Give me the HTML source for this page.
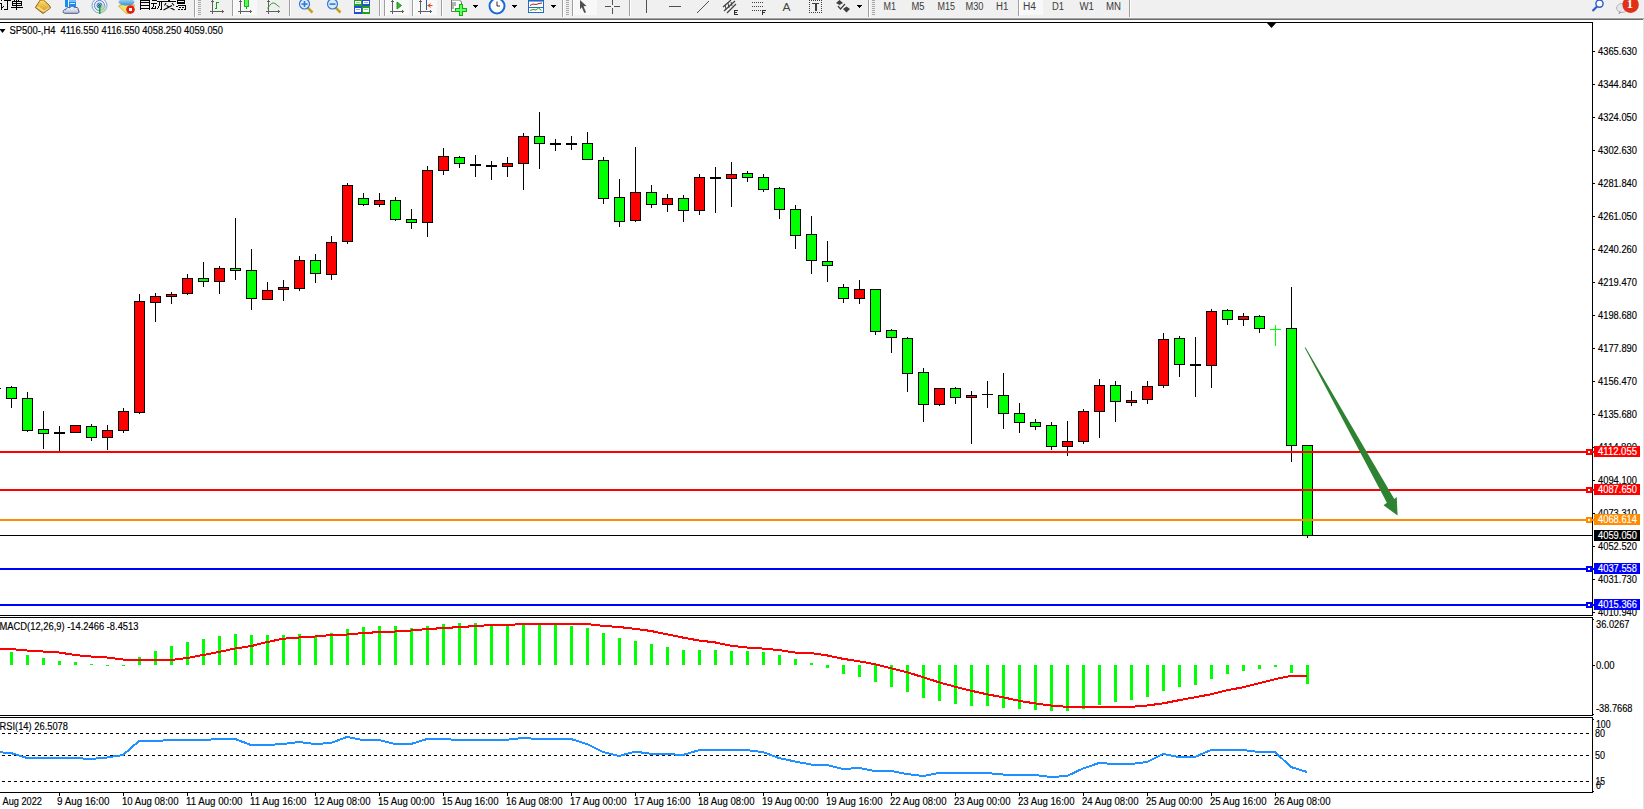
<!DOCTYPE html><html><head><meta charset="utf-8"><title>MT4 SP500 H4</title><style>html,body{margin:0;padding:0;background:#fff;overflow:hidden;width:1644px;height:809px}svg{display:block;font-family:"Liberation Sans",sans-serif}</style></head><body>
<svg width="1644" height="809" viewBox="0 0 1644 809">
<rect x="0" y="0" width="1644" height="809" fill="#ffffff"/>
<rect x="0" y="0" width="1644" height="17" fill="#f0f0f0"/>
<rect x="0" y="17" width="1644" height="1" fill="#f4f4f4"/>
<rect x="0" y="18" width="1644" height="1" fill="#a3a3a3"/>
<rect x="0" y="19" width="1644" height="1" fill="#6a6a6a"/>
<rect x="1643" y="19" width="1" height="790" fill="#e3e3e3"/>
<g shape-rendering="crispEdges" fill="#000">
<rect x="0" y="3" width="2" height="1" fill="#000"/>
<rect x="1" y="3" width="1" height="7" fill="#000"/>
<rect x="1" y="0" width="1" height="1" fill="#000"/>
<rect x="2" y="7" width="1" height="1" fill="#000"/>
<rect x="3" y="6" width="1" height="1" fill="#000"/>
<rect x="4" y="0" width="7" height="1" fill="#000"/>
<rect x="7" y="1" width="1" height="9" fill="#000"/>
<rect x="4" y="9" width="3" height="1" fill="#000"/>
<rect x="14" y="0" width="1" height="1" fill="#000"/>
<rect x="18" y="0" width="1" height="1" fill="#000"/>
<rect x="12" y="1" width="10" height="1" fill="#000"/>
<rect x="12" y="3" width="10" height="1" fill="#000"/>
<rect x="12" y="5" width="10" height="1" fill="#000"/>
<rect x="12" y="1" width="1" height="5" fill="#000"/>
<rect x="21" y="1" width="1" height="5" fill="#000"/>
<rect x="16" y="0" width="1" height="10" fill="#000"/>
<rect x="11" y="7" width="12" height="1" fill="#000"/>
<rect x="140" y="0" width="1" height="10" fill="#000"/>
<rect x="149" y="0" width="1" height="10" fill="#000"/>
<rect x="140" y="0" width="10" height="1" fill="#000"/>
<rect x="140" y="2" width="10" height="1" fill="#000"/>
<rect x="140" y="5" width="10" height="1" fill="#000"/>
<rect x="140" y="8" width="10" height="1" fill="#000"/>
<rect x="143" y="0" width="2" height="1" fill="#000"/>
<rect x="152" y="0" width="5" height="1" fill="#000"/>
<rect x="151" y="3" width="6" height="1" fill="#000"/>
<rect x="153" y="4" width="1" height="3" fill="#000"/>
<rect x="152" y="7" width="1" height="1" fill="#000"/>
<rect x="151" y="8" width="5" height="1" fill="#000"/>
<rect x="155" y="6" width="1" height="2" fill="#000"/>
<rect x="157" y="1" width="6" height="1" fill="#000"/>
<rect x="161" y="1" width="1" height="8" fill="#000"/>
<rect x="159" y="2" width="1" height="4" fill="#000"/>
<rect x="158" y="6" width="1" height="2" fill="#000"/>
<rect x="157" y="8" width="1" height="1" fill="#000"/>
<rect x="160" y="9" width="2" height="1" fill="#000"/>
<rect x="168" y="0" width="2" height="1" fill="#000"/>
<rect x="163" y="1" width="13" height="1" fill="#000"/>
</g>
<path d="M166,3 L164.5,5.5 M172,3 L174,5.5 M166.5,5.5 L174.5,10 M172,5.5 L163.5,10" stroke="#000" stroke-width="1.1" fill="none"/>
<g shape-rendering="crispEdges" fill="#000">
<rect x="177" y="0" width="1" height="4" fill="#000"/>
<rect x="184" y="0" width="1" height="4" fill="#000"/>
<rect x="177" y="0" width="8" height="1" fill="#000"/>
<rect x="177" y="2" width="8" height="1" fill="#000"/>
<rect x="177" y="3" width="8" height="1" fill="#000"/>
<rect x="178" y="5" width="8" height="1" fill="#000"/>
<rect x="185" y="5" width="1" height="5" fill="#000"/>
<rect x="176" y="6" width="2" height="1" fill="#000"/>
<rect x="179" y="7" width="2" height="1" fill="#000"/>
<rect x="182" y="7" width="2" height="1" fill="#000"/>
<rect x="178" y="9" width="2" height="1" fill="#000"/>
<rect x="181" y="9" width="2" height="1" fill="#000"/>
<rect x="184" y="9" width="2" height="1" fill="#000"/>
</g>
<defs><linearGradient id="gb" x1="0" y1="0" x2="0" y2="1"><stop offset="0" stop-color="#ffe070"/><stop offset="1" stop-color="#d09010"/></linearGradient><linearGradient id="gh" x1="0" y1="0" x2="0" y2="1"><stop offset="0" stop-color="#a8e0ff"/><stop offset="1" stop-color="#3a90d0"/></linearGradient><radialGradient id="gc" cx="0.35" cy="0.3" r="0.8"><stop offset="0" stop-color="#ffffff"/><stop offset="1" stop-color="#c8d8f0"/></radialGradient></defs>
<polygon points="40.3,0 35.3,7.5 43,13.5 50.5,8 49.5,5.5 43.5,0" fill="url(#gb)" stroke="#9a6010" stroke-width="1"/>
<polygon points="36.8,7.6 43.5,12.2 44.8,10.8 38,6.3" fill="#f4dc98"/>
<polygon points="44.5,12 49.6,8.2 48.8,7 43.8,10.8" fill="#e0d090"/>
<rect x="65" y="0" width="11" height="7" fill="#1a8cf0"/><rect x="69" y="0" width="7" height="2" fill="#70c0ff"/><rect x="68" y="0" width="1" height="7" fill="#e8f4ff"/><rect x="70" y="3" width="5" height="1" fill="#e0f0ff"/>
<linearGradient id="gcl" x1="0" y1="0" x2="0" y2="1"><stop offset="0" stop-color="#ffffff"/><stop offset="1" stop-color="#b4c0d4"/></linearGradient>
<path d="M64.5,13.3 C62.5,13.3 62.5,9.3 65.8,9.5 C65.8,7.5 69,7 70,7.8 C70.5,5.8 73.8,5.8 74.5,7.8 C76,6.8 78.8,7.5 78.3,10 C79.5,11 79.3,13.3 77.5,13.3 Z" fill="url(#gcl)" stroke="#4a5a88" stroke-width="1"/>
<g fill="none" stroke-width="1"><circle cx="99.5" cy="5.5" r="7.5" stroke="#7aa0e0"/><circle cx="99.5" cy="5.5" r="5" stroke="#5080d8"/><circle cx="99.5" cy="5.5" r="2.5" stroke="#3060c0"/></g>
<path d="M99.5,5.5 L99.5,13 A7.5,7.5 0 0 0 107,5.5 Z" fill="#a8d8a0" opacity="0.7"/>
<circle cx="99.5" cy="5.5" r="1.5" fill="#1848c0"/><rect x="99" y="5" width="1.5" height="9" fill="#20a020"/>
<polygon points="118.5,6 126,3 134.5,5 131,13 126,13.5" fill="#f0e070" stroke="#d0a020" stroke-width="0.8"/>
<ellipse cx="126.5" cy="2" rx="8" ry="3.5" fill="url(#gh)"/>
<circle cx="130.5" cy="9.5" r="4.3" fill="#e02010"/><rect x="129" y="8" width="3" height="3" fill="#fff"/>
<g shape-rendering="crispEdges">
<rect x="194" y="0" width="1" height="17" fill="#a0a0a0"/>
<rect x="195" y="0" width="1" height="17" fill="#ffffff"/>
<rect x="232" y="0" width="1" height="16" fill="#a0a0a0"/>
<rect x="233" y="0" width="1" height="16" fill="#ffffff"/>
<rect x="289" y="0" width="1" height="16" fill="#a0a0a0"/>
<rect x="290" y="0" width="1" height="16" fill="#ffffff"/>
<rect x="379" y="0" width="1" height="16" fill="#a0a0a0"/>
<rect x="380" y="0" width="1" height="16" fill="#ffffff"/>
<rect x="384" y="0" width="1" height="16" fill="#a0a0a0"/>
<rect x="385" y="0" width="1" height="16" fill="#ffffff"/>
<rect x="412" y="0" width="1" height="16" fill="#a0a0a0"/>
<rect x="413" y="0" width="1" height="16" fill="#ffffff"/>
<rect x="441" y="0" width="1" height="16" fill="#a0a0a0"/>
<rect x="442" y="0" width="1" height="16" fill="#ffffff"/>
<rect x="562" y="0" width="1" height="17" fill="#a0a0a0"/>
<rect x="563" y="0" width="1" height="17" fill="#ffffff"/>
<rect x="572" y="0" width="1" height="16" fill="#a0a0a0"/>
<rect x="573" y="0" width="1" height="16" fill="#ffffff"/>
<rect x="629" y="0" width="1" height="16" fill="#a0a0a0"/>
<rect x="630" y="0" width="1" height="16" fill="#ffffff"/>
<rect x="868" y="0" width="1" height="17" fill="#a0a0a0"/>
<rect x="869" y="0" width="1" height="17" fill="#ffffff"/>
<rect x="1018" y="0" width="1" height="16" fill="#a0a0a0"/>
<rect x="1019" y="0" width="1" height="16" fill="#ffffff"/>
<rect x="1129" y="0" width="1" height="17" fill="#a0a0a0"/>
<rect x="1130" y="0" width="1" height="17" fill="#ffffff"/>
<rect x="198" y="0" width="3" height="1" fill="#a8a8a8"/>
<rect x="198" y="2" width="3" height="1" fill="#a8a8a8"/>
<rect x="198" y="4" width="3" height="1" fill="#a8a8a8"/>
<rect x="198" y="6" width="3" height="1" fill="#a8a8a8"/>
<rect x="198" y="8" width="3" height="1" fill="#a8a8a8"/>
<rect x="198" y="10" width="3" height="1" fill="#a8a8a8"/>
<rect x="198" y="12" width="3" height="1" fill="#a8a8a8"/>
<rect x="198" y="14" width="3" height="1" fill="#a8a8a8"/>
<rect x="566" y="0" width="3" height="1" fill="#a8a8a8"/>
<rect x="566" y="2" width="3" height="1" fill="#a8a8a8"/>
<rect x="566" y="4" width="3" height="1" fill="#a8a8a8"/>
<rect x="566" y="6" width="3" height="1" fill="#a8a8a8"/>
<rect x="566" y="8" width="3" height="1" fill="#a8a8a8"/>
<rect x="566" y="10" width="3" height="1" fill="#a8a8a8"/>
<rect x="566" y="12" width="3" height="1" fill="#a8a8a8"/>
<rect x="566" y="14" width="3" height="1" fill="#a8a8a8"/>
<rect x="872" y="0" width="3" height="1" fill="#a8a8a8"/>
<rect x="872" y="2" width="3" height="1" fill="#a8a8a8"/>
<rect x="872" y="4" width="3" height="1" fill="#a8a8a8"/>
<rect x="872" y="6" width="3" height="1" fill="#a8a8a8"/>
<rect x="872" y="8" width="3" height="1" fill="#a8a8a8"/>
<rect x="872" y="10" width="3" height="1" fill="#a8a8a8"/>
<rect x="872" y="12" width="3" height="1" fill="#a8a8a8"/>
<rect x="872" y="14" width="3" height="1" fill="#a8a8a8"/>
<rect x="234" y="0" width="23" height="15" fill="#f8f8f8"/>
<rect x="386" y="0" width="23" height="15" fill="#f8f8f8"/>
<rect x="414" y="0" width="23" height="15" fill="#f8f8f8"/>
<rect x="574" y="0" width="23" height="15" fill="#f8f8f8"/>
<rect x="1020" y="0" width="23" height="15" fill="#f8f8f8"/>
<rect x="212" y="0" width="1" height="14" fill="#606060"/>
<rect x="210" y="11" width="14" height="1" fill="#606060"/>
<rect x="222" y="10" width="1" height="3" fill="#606060"/>
<rect x="211" y="1" width="3" height="1" fill="#606060"/>
<rect x="240" y="0" width="1" height="14" fill="#606060"/>
<rect x="238" y="11" width="14" height="1" fill="#606060"/>
<rect x="250" y="10" width="1" height="3" fill="#606060"/>
<rect x="239" y="1" width="3" height="1" fill="#606060"/>
<rect x="268" y="0" width="1" height="14" fill="#606060"/>
<rect x="266" y="11" width="14" height="1" fill="#606060"/>
<rect x="278" y="10" width="1" height="3" fill="#606060"/>
<rect x="267" y="1" width="3" height="1" fill="#606060"/>
<rect x="392" y="0" width="1" height="14" fill="#606060"/>
<rect x="390" y="11" width="14" height="1" fill="#606060"/>
<rect x="402" y="10" width="1" height="3" fill="#606060"/>
<rect x="391" y="1" width="3" height="1" fill="#606060"/>
<rect x="420" y="0" width="1" height="14" fill="#606060"/>
<rect x="418" y="11" width="14" height="1" fill="#606060"/>
<rect x="430" y="10" width="1" height="3" fill="#606060"/>
<rect x="419" y="1" width="3" height="1" fill="#606060"/>
</g>
<g shape-rendering="crispEdges">
<rect x="216" y="2" width="1" height="7" fill="#10a010"/>
<rect x="217" y="2" width="2" height="1" fill="#10a010"/>
<rect x="215" y="8" width="1" height="1" fill="#10a010"/>
<rect x="216" y="8" width="1" height="1" fill="#10a010"/>
<rect x="244" y="0" width="5" height="7" fill="#10c010"/>
<rect x="245" y="0" width="3" height="6" fill="#60f060"/>
<rect x="246" y="7" width="1" height="2" fill="#10a010"/>
</g>
<path d="M267.5,8.5 Q272,1 275,3.5 T279.5,7" fill="none" stroke="#20a020" stroke-width="1"/>
<line x1="307.5" y1="7.5" x2="312.5" y2="12.5" stroke="#c8a020" stroke-width="2.5"/>
<circle cx="304.5" cy="4" r="5" fill="#d8ecff" stroke="#3a78d0" stroke-width="1.2"/>
<rect x="301.5" y="3.3" width="6" height="1.6" fill="#3a78d0"/>
<rect x="303.7" y="1" width="1.6" height="6" fill="#3a78d0"/>
<line x1="335.5" y1="7.5" x2="340.5" y2="12.5" stroke="#c8a020" stroke-width="2.5"/>
<circle cx="332.5" cy="4" r="5" fill="#d8ecff" stroke="#3a78d0" stroke-width="1.2"/>
<rect x="329.5" y="3.3" width="6" height="1.6" fill="#3a78d0"/>
<g shape-rendering="crispEdges">
<rect x="354" y="0" width="8" height="6" fill="#20a020"/>
<rect x="362" y="0" width="8" height="6" fill="#2050d0"/>
<rect x="354" y="6" width="8" height="8" fill="#2050d0"/>
<rect x="362" y="6" width="8" height="8" fill="#20a020"/>
<rect x="355" y="1" width="6" height="3" fill="#ffffff"/>
<rect x="363" y="1" width="6" height="3" fill="#ffffff"/>
<rect x="355" y="8" width="6" height="4" fill="#ffffff"/>
<rect x="363" y="8" width="6" height="4" fill="#ffffff"/>
<rect x="356" y="2" width="4" height="1" fill="#90d090"/>
<rect x="364" y="2" width="4" height="1" fill="#90a8e0"/>
<rect x="356" y="9" width="4" height="1" fill="#90a8e0"/>
<rect x="364" y="9" width="4" height="1" fill="#90d090"/>
</g>
<polygon points="397,2 401.5,5.5 397,9" fill="#30c030" stroke="#108010" stroke-width="0.8"/>
<g shape-rendering="crispEdges">
<rect x="426" y="0" width="1" height="10" fill="#2060a0"/>
</g>
<polygon points="427,5.5 431,3 430,5 432.5,5 432.5,6 430,6 431,8" fill="#e05010"/>
<path d="M451.5,0 L459.5,0 L461.5,2 L461.5,11.5 L451.5,11.5 Z" fill="#ffffff" stroke="#707070" stroke-width="1"/>
<path d="M453,2 L453,9 M454,3 L456,3 M454,5 L456,5" stroke="#404040" stroke-width="0.8"/>
<g shape-rendering="crispEdges">
<rect x="459" y="4" width="4" height="12" fill="#10b010"/>
<rect x="455" y="8" width="12" height="4" fill="#10b010"/>
<rect x="460" y="5" width="2" height="10" fill="#60ff60"/>
<rect x="456" y="9" width="10" height="2" fill="#60ff60"/>
<rect x="473" y="5" width="5" height="1" fill="#000"/>
<rect x="474" y="6" width="3" height="1" fill="#000"/>
<rect x="475" y="7" width="1" height="1" fill="#000"/>
<rect x="512" y="5" width="5" height="1" fill="#000"/>
<rect x="513" y="6" width="3" height="1" fill="#000"/>
<rect x="514" y="7" width="1" height="1" fill="#000"/>
<rect x="551" y="5" width="5" height="1" fill="#000"/>
<rect x="552" y="6" width="3" height="1" fill="#000"/>
<rect x="553" y="7" width="1" height="1" fill="#000"/>
<rect x="857" y="5" width="5" height="1" fill="#000"/>
<rect x="858" y="6" width="3" height="1" fill="#000"/>
<rect x="859" y="7" width="1" height="1" fill="#000"/>
</g>
<circle cx="497" cy="6" r="7.5" fill="#ffffff" stroke="#1a6ad8" stroke-width="2"/>
<path d="M497,1.5 L497,6 L500,6" fill="none" stroke="#303030" stroke-width="1"/>
<g shape-rendering="crispEdges">
<rect x="528" y="0" width="16" height="13" fill="#2868c8"/>
<rect x="529" y="1" width="14" height="11" fill="#ffffff"/>
<rect x="529" y="1" width="14" height="1" fill="#7aa8e8"/>
<rect x="529" y="7" width="14" height="1" fill="#2868c8"/>
</g>
<polyline points="530,5.5 533,4 536,4.5 539,3.5 542,3" fill="none" stroke="#b02010" stroke-width="1"/>
<polyline points="530,10.5 533,9.5 536,10 538.5,8 541.5,10.5" fill="none" stroke="#20a020" stroke-width="1"/>
<polygon points="580,0 586.5,6 583.5,6.3 586,12.3 584.3,13 581.8,7.3 580,9.3" fill="#505050"/>
<g shape-rendering="crispEdges">
<rect x="605" y="6" width="6" height="1" fill="#505050"/>
<rect x="614" y="6" width="6" height="1" fill="#505050"/>
<rect x="612" y="0" width="1" height="5" fill="#505050"/>
<rect x="612" y="8" width="1" height="6" fill="#505050"/>
<rect x="646" y="0" width="1" height="13" fill="#505050"/>
<rect x="669" y="6" width="12" height="1" fill="#505050"/>
</g>
<line x1="697" y1="13" x2="709" y2="1" stroke="#505050" stroke-width="1"/>
<path d="M723,7 L731,0 M724,11 L735,1 M727,13 L736,4" stroke="#404040" stroke-width="1.2" fill="none"/>
<path d="M725,5 L726,9 M728,3 L729,8 M731,2 L732,6" stroke="#404040" stroke-width="1" fill="none"/>
<g shape-rendering="crispEdges">
<rect x="734" y="10" width="1" height="5" fill="#303030"/>
<rect x="734" y="10" width="4" height="1" fill="#303030"/>
<rect x="734" y="12" width="3" height="1" fill="#303030"/>
<rect x="734" y="14" width="4" height="1" fill="#303030"/>
<rect x="752" y="2" width="1" height="1" fill="#404040"/>
<rect x="754" y="2" width="1" height="1" fill="#404040"/>
<rect x="756" y="2" width="1" height="1" fill="#404040"/>
<rect x="758" y="2" width="1" height="1" fill="#404040"/>
<rect x="760" y="2" width="1" height="1" fill="#404040"/>
<rect x="762" y="2" width="1" height="1" fill="#404040"/>
<rect x="752" y="6" width="1" height="1" fill="#404040"/>
<rect x="754" y="6" width="1" height="1" fill="#404040"/>
<rect x="756" y="6" width="1" height="1" fill="#404040"/>
<rect x="758" y="6" width="1" height="1" fill="#404040"/>
<rect x="760" y="6" width="1" height="1" fill="#404040"/>
<rect x="762" y="6" width="1" height="1" fill="#404040"/>
<rect x="752" y="10" width="1" height="1" fill="#404040"/>
<rect x="754" y="10" width="1" height="1" fill="#404040"/>
<rect x="756" y="10" width="1" height="1" fill="#404040"/>
<rect x="758" y="10" width="1" height="1" fill="#404040"/>
<rect x="760" y="10" width="1" height="1" fill="#404040"/>
<rect x="762" y="10" width="1" height="1" fill="#404040"/>
<rect x="762" y="10" width="1" height="5" fill="#303030"/>
<rect x="762" y="10" width="4" height="1" fill="#303030"/>
<rect x="762" y="12" width="3" height="1" fill="#303030"/>
<rect x="809" y="0" width="1" height="1" fill="#404040"/>
<rect x="809" y="12" width="1" height="1" fill="#404040"/>
<rect x="811" y="0" width="1" height="1" fill="#404040"/>
<rect x="811" y="12" width="1" height="1" fill="#404040"/>
<rect x="813" y="0" width="1" height="1" fill="#404040"/>
<rect x="813" y="12" width="1" height="1" fill="#404040"/>
<rect x="815" y="0" width="1" height="1" fill="#404040"/>
<rect x="815" y="12" width="1" height="1" fill="#404040"/>
<rect x="817" y="0" width="1" height="1" fill="#404040"/>
<rect x="817" y="12" width="1" height="1" fill="#404040"/>
<rect x="819" y="0" width="1" height="1" fill="#404040"/>
<rect x="819" y="12" width="1" height="1" fill="#404040"/>
<rect x="821" y="0" width="1" height="1" fill="#404040"/>
<rect x="821" y="12" width="1" height="1" fill="#404040"/>
<rect x="809" y="0" width="1" height="1" fill="#404040"/>
<rect x="821" y="0" width="1" height="1" fill="#404040"/>
<rect x="809" y="2" width="1" height="1" fill="#404040"/>
<rect x="821" y="2" width="1" height="1" fill="#404040"/>
<rect x="809" y="4" width="1" height="1" fill="#404040"/>
<rect x="821" y="4" width="1" height="1" fill="#404040"/>
<rect x="809" y="6" width="1" height="1" fill="#404040"/>
<rect x="821" y="6" width="1" height="1" fill="#404040"/>
<rect x="809" y="8" width="1" height="1" fill="#404040"/>
<rect x="821" y="8" width="1" height="1" fill="#404040"/>
<rect x="809" y="10" width="1" height="1" fill="#404040"/>
<rect x="821" y="10" width="1" height="1" fill="#404040"/>
<rect x="809" y="12" width="1" height="1" fill="#404040"/>
<rect x="821" y="12" width="1" height="1" fill="#404040"/>
<rect x="812" y="3" width="7" height="1" fill="#404040"/>
<rect x="815" y="3" width="2" height="8" fill="#404040"/>
</g>
<text x="782.5" y="11" font-size="11" fill="#454545" textLength="8" lengthAdjust="spacingAndGlyphs">A</text>
<polygon points="836,3 839.5,0 843,3 839.5,5" fill="#404040"/><polygon points="843,9 846.5,6.5 850,9 846.5,12.5" fill="#404040"/>
<polyline points="838,6 840.5,9 845,4" fill="none" stroke="#404040" stroke-width="1.2"/>
<text x="883.5" y="10" font-size="10" fill="#3c3c3c" textLength="12.5" lengthAdjust="spacingAndGlyphs">M1</text>
<text x="911.5" y="10" font-size="10" fill="#3c3c3c" textLength="13" lengthAdjust="spacingAndGlyphs">M5</text>
<text x="937.5" y="10" font-size="10" fill="#3c3c3c" textLength="17.5" lengthAdjust="spacingAndGlyphs">M15</text>
<text x="965.5" y="10" font-size="10" fill="#3c3c3c" textLength="18" lengthAdjust="spacingAndGlyphs">M30</text>
<text x="996" y="10" font-size="10" fill="#3c3c3c" textLength="12.3" lengthAdjust="spacingAndGlyphs">H1</text>
<text x="1023" y="10" font-size="10" fill="#3c3c3c" textLength="13" lengthAdjust="spacingAndGlyphs">H4</text>
<text x="1052" y="10" font-size="10" fill="#3c3c3c" textLength="12" lengthAdjust="spacingAndGlyphs">D1</text>
<text x="1079.5" y="10" font-size="10" fill="#3c3c3c" textLength="14.5" lengthAdjust="spacingAndGlyphs">W1</text>
<text x="1106" y="10" font-size="10" fill="#3c3c3c" textLength="15" lengthAdjust="spacingAndGlyphs">MN</text>
<line x1="1597" y1="6.5" x2="1592.5" y2="11" stroke="#2a5ad0" stroke-width="2.2"/>
<circle cx="1599.5" cy="3.6" r="3.6" fill="#ffffff" stroke="#2a5ad0" stroke-width="1.4"/>
<ellipse cx="1622" cy="8" rx="5.5" ry="4.5" fill="#e4e6ec" stroke="#b8b8b8" stroke-width="1"/>
<polygon points="1619,11.5 1618.5,14.5 1622,12" fill="#a0a0a0"/>
<circle cx="1630.6" cy="4.7" r="8.2" fill="#e03018"/>
<text x="1626.8" y="8.2" font-size="12.5" font-family="Liberation Serif" fill="#fff" font-weight="bold">1</text>
<g shape-rendering="crispEdges">
<rect x="0" y="22" width="1593" height="1" fill="#000"/>
<rect x="1592" y="22" width="1" height="594" fill="#000"/>
<rect x="0" y="615" width="1593" height="1" fill="#000"/>
<rect x="0" y="617" width="1593" height="1" fill="#000"/>
<rect x="1592" y="617" width="1" height="99" fill="#000"/>
<rect x="0" y="715" width="1593" height="1" fill="#000"/>
<rect x="0" y="717" width="1593" height="1" fill="#000"/>
<rect x="1592" y="717" width="1" height="76" fill="#000"/>
<rect x="0" y="792" width="1593" height="1" fill="#000"/>
<rect x="1593" y="51" width="2" height="1" fill="#000"/>
<rect x="1593" y="84" width="2" height="1" fill="#000"/>
<rect x="1593" y="117" width="2" height="1" fill="#000"/>
<rect x="1593" y="150" width="2" height="1" fill="#000"/>
<rect x="1593" y="183" width="2" height="1" fill="#000"/>
<rect x="1593" y="216" width="2" height="1" fill="#000"/>
<rect x="1593" y="249" width="2" height="1" fill="#000"/>
<rect x="1593" y="282" width="2" height="1" fill="#000"/>
<rect x="1593" y="315" width="2" height="1" fill="#000"/>
<rect x="1593" y="348" width="2" height="1" fill="#000"/>
<rect x="1593" y="381" width="2" height="1" fill="#000"/>
<rect x="1593" y="414" width="2" height="1" fill="#000"/>
<rect x="1593" y="447" width="2" height="1" fill="#000"/>
<rect x="1593" y="480" width="2" height="1" fill="#000"/>
<rect x="1593" y="513" width="2" height="1" fill="#000"/>
<rect x="1593" y="546" width="2" height="1" fill="#000"/>
<rect x="1593" y="579" width="2" height="1" fill="#000"/>
<rect x="1593" y="612" width="2" height="1" fill="#000"/>
<rect x="1593" y="665" width="2" height="1" fill="#000"/>
<rect x="1593" y="714" width="1" height="1" fill="#000"/>
<rect x="1593" y="719" width="1" height="1" fill="#000"/>
<rect x="1593" y="791" width="1" height="1" fill="#000"/>
<rect x="1593" y="619" width="1" height="1" fill="#000"/>
<rect x="59" y="793" width="1" height="3" fill="#000"/>
<rect x="123" y="793" width="1" height="3" fill="#000"/>
<rect x="187" y="793" width="1" height="3" fill="#000"/>
<rect x="251" y="793" width="1" height="3" fill="#000"/>
<rect x="315" y="793" width="1" height="3" fill="#000"/>
<rect x="379" y="793" width="1" height="3" fill="#000"/>
<rect x="443" y="793" width="1" height="3" fill="#000"/>
<rect x="507" y="793" width="1" height="3" fill="#000"/>
<rect x="571" y="793" width="1" height="3" fill="#000"/>
<rect x="635" y="793" width="1" height="3" fill="#000"/>
<rect x="699" y="793" width="1" height="3" fill="#000"/>
<rect x="763" y="793" width="1" height="3" fill="#000"/>
<rect x="827" y="793" width="1" height="3" fill="#000"/>
<rect x="891" y="793" width="1" height="3" fill="#000"/>
<rect x="955" y="793" width="1" height="3" fill="#000"/>
<rect x="1019" y="793" width="1" height="3" fill="#000"/>
<rect x="1083" y="793" width="1" height="3" fill="#000"/>
<rect x="1147" y="793" width="1" height="3" fill="#000"/>
<rect x="1211" y="793" width="1" height="3" fill="#000"/>
<rect x="1275" y="793" width="1" height="3" fill="#000"/>
</g>
<g font-size="10" fill="#000">
<text x="1598" y="55" font-size="10" fill="#000" textLength="39" lengthAdjust="spacingAndGlyphs" stroke="#000" stroke-width="0.15">4365.630</text>
<text x="1598" y="88" font-size="10" fill="#000" textLength="39" lengthAdjust="spacingAndGlyphs" stroke="#000" stroke-width="0.15">4344.840</text>
<text x="1598" y="121" font-size="10" fill="#000" textLength="39" lengthAdjust="spacingAndGlyphs" stroke="#000" stroke-width="0.15">4324.050</text>
<text x="1598" y="154" font-size="10" fill="#000" textLength="39" lengthAdjust="spacingAndGlyphs" stroke="#000" stroke-width="0.15">4302.630</text>
<text x="1598" y="187" font-size="10" fill="#000" textLength="39" lengthAdjust="spacingAndGlyphs" stroke="#000" stroke-width="0.15">4281.840</text>
<text x="1598" y="220" font-size="10" fill="#000" textLength="39" lengthAdjust="spacingAndGlyphs" stroke="#000" stroke-width="0.15">4261.050</text>
<text x="1598" y="253" font-size="10" fill="#000" textLength="39" lengthAdjust="spacingAndGlyphs" stroke="#000" stroke-width="0.15">4240.260</text>
<text x="1598" y="286" font-size="10" fill="#000" textLength="39" lengthAdjust="spacingAndGlyphs" stroke="#000" stroke-width="0.15">4219.470</text>
<text x="1598" y="319" font-size="10" fill="#000" textLength="39" lengthAdjust="spacingAndGlyphs" stroke="#000" stroke-width="0.15">4198.680</text>
<text x="1598" y="352" font-size="10" fill="#000" textLength="39" lengthAdjust="spacingAndGlyphs" stroke="#000" stroke-width="0.15">4177.890</text>
<text x="1598" y="385" font-size="10" fill="#000" textLength="39" lengthAdjust="spacingAndGlyphs" stroke="#000" stroke-width="0.15">4156.470</text>
<text x="1598" y="418" font-size="10" fill="#000" textLength="39" lengthAdjust="spacingAndGlyphs" stroke="#000" stroke-width="0.15">4135.680</text>
<text x="1598" y="451" font-size="10" fill="#000" textLength="39" lengthAdjust="spacingAndGlyphs" stroke="#000" stroke-width="0.15">4114.890</text>
<text x="1598" y="484" font-size="10" fill="#000" textLength="39" lengthAdjust="spacingAndGlyphs" stroke="#000" stroke-width="0.15">4094.100</text>
<text x="1598" y="517" font-size="10" fill="#000" textLength="39" lengthAdjust="spacingAndGlyphs" stroke="#000" stroke-width="0.15">4073.310</text>
<text x="1598" y="550" font-size="10" fill="#000" textLength="39" lengthAdjust="spacingAndGlyphs" stroke="#000" stroke-width="0.15">4052.520</text>
<text x="1598" y="583" font-size="10" fill="#000" textLength="39" lengthAdjust="spacingAndGlyphs" stroke="#000" stroke-width="0.15">4031.730</text>
<text x="1598" y="616" font-size="10" fill="#000" textLength="39" lengthAdjust="spacingAndGlyphs" stroke="#000" stroke-width="0.15">4010.940</text>
</g>
<text x="57" y="805" font-size="10" fill="#000" textLength="52.5" lengthAdjust="spacingAndGlyphs" stroke="#000" stroke-width="0.15">9 Aug 16:00</text>
<text x="122" y="805" font-size="10" fill="#000" textLength="56.5" lengthAdjust="spacingAndGlyphs" stroke="#000" stroke-width="0.15">10 Aug 08:00</text>
<text x="186" y="805" font-size="10" fill="#000" textLength="56.5" lengthAdjust="spacingAndGlyphs" stroke="#000" stroke-width="0.15">11 Aug 00:00</text>
<text x="250" y="805" font-size="10" fill="#000" textLength="56.5" lengthAdjust="spacingAndGlyphs" stroke="#000" stroke-width="0.15">11 Aug 16:00</text>
<text x="314" y="805" font-size="10" fill="#000" textLength="56.5" lengthAdjust="spacingAndGlyphs" stroke="#000" stroke-width="0.15">12 Aug 08:00</text>
<text x="378" y="805" font-size="10" fill="#000" textLength="56.5" lengthAdjust="spacingAndGlyphs" stroke="#000" stroke-width="0.15">15 Aug 00:00</text>
<text x="442" y="805" font-size="10" fill="#000" textLength="56.5" lengthAdjust="spacingAndGlyphs" stroke="#000" stroke-width="0.15">15 Aug 16:00</text>
<text x="506" y="805" font-size="10" fill="#000" textLength="56.5" lengthAdjust="spacingAndGlyphs" stroke="#000" stroke-width="0.15">16 Aug 08:00</text>
<text x="570" y="805" font-size="10" fill="#000" textLength="56.5" lengthAdjust="spacingAndGlyphs" stroke="#000" stroke-width="0.15">17 Aug 00:00</text>
<text x="634" y="805" font-size="10" fill="#000" textLength="56.5" lengthAdjust="spacingAndGlyphs" stroke="#000" stroke-width="0.15">17 Aug 16:00</text>
<text x="698" y="805" font-size="10" fill="#000" textLength="56.5" lengthAdjust="spacingAndGlyphs" stroke="#000" stroke-width="0.15">18 Aug 08:00</text>
<text x="762" y="805" font-size="10" fill="#000" textLength="56.5" lengthAdjust="spacingAndGlyphs" stroke="#000" stroke-width="0.15">19 Aug 00:00</text>
<text x="826" y="805" font-size="10" fill="#000" textLength="56.5" lengthAdjust="spacingAndGlyphs" stroke="#000" stroke-width="0.15">19 Aug 16:00</text>
<text x="890" y="805" font-size="10" fill="#000" textLength="56.5" lengthAdjust="spacingAndGlyphs" stroke="#000" stroke-width="0.15">22 Aug 08:00</text>
<text x="954" y="805" font-size="10" fill="#000" textLength="56.5" lengthAdjust="spacingAndGlyphs" stroke="#000" stroke-width="0.15">23 Aug 00:00</text>
<text x="1018" y="805" font-size="10" fill="#000" textLength="56.5" lengthAdjust="spacingAndGlyphs" stroke="#000" stroke-width="0.15">23 Aug 16:00</text>
<text x="1082" y="805" font-size="10" fill="#000" textLength="56.5" lengthAdjust="spacingAndGlyphs" stroke="#000" stroke-width="0.15">24 Aug 08:00</text>
<text x="1146" y="805" font-size="10" fill="#000" textLength="56.5" lengthAdjust="spacingAndGlyphs" stroke="#000" stroke-width="0.15">25 Aug 00:00</text>
<text x="1210" y="805" font-size="10" fill="#000" textLength="56.5" lengthAdjust="spacingAndGlyphs" stroke="#000" stroke-width="0.15">25 Aug 16:00</text>
<text x="1274" y="805" font-size="10" fill="#000" textLength="56.5" lengthAdjust="spacingAndGlyphs" stroke="#000" stroke-width="0.15">26 Aug 08:00</text>
<text x="2.5" y="805" font-size="10" fill="#000" textLength="39.5" lengthAdjust="spacingAndGlyphs" stroke="#000" stroke-width="0.15">Aug 2022</text>
<g shape-rendering="crispEdges">
<rect x="11" y="386" width="1" height="1" fill="#000"/>
<rect x="11" y="399" width="1" height="9" fill="#000"/>
<rect x="6" y="387" width="11" height="12" fill="#000"/>
<rect x="7" y="388" width="9" height="10" fill="#00ff00"/>
<rect x="27" y="392" width="1" height="6" fill="#000"/>
<rect x="27" y="431" width="1" height="1" fill="#000"/>
<rect x="22" y="398" width="11" height="33" fill="#000"/>
<rect x="23" y="399" width="9" height="31" fill="#00ff00"/>
<rect x="43" y="411" width="1" height="18" fill="#000"/>
<rect x="43" y="434" width="1" height="15" fill="#000"/>
<rect x="38" y="429" width="11" height="5" fill="#000"/>
<rect x="39" y="430" width="9" height="3" fill="#00ff00"/>
<rect x="59" y="426" width="1" height="25" fill="#000"/>
<rect x="54" y="432" width="11" height="2" fill="#000"/>
<rect x="70" y="425" width="11" height="8" fill="#000"/>
<rect x="71" y="426" width="9" height="6" fill="#ff0000"/>
<rect x="91" y="424" width="1" height="2" fill="#000"/>
<rect x="91" y="438" width="1" height="3" fill="#000"/>
<rect x="86" y="426" width="11" height="12" fill="#000"/>
<rect x="87" y="427" width="9" height="10" fill="#00ff00"/>
<rect x="107" y="425" width="1" height="5" fill="#000"/>
<rect x="107" y="438" width="1" height="12" fill="#000"/>
<rect x="102" y="430" width="11" height="8" fill="#000"/>
<rect x="103" y="431" width="9" height="6" fill="#ff0000"/>
<rect x="123" y="408" width="1" height="3" fill="#000"/>
<rect x="123" y="431" width="1" height="2" fill="#000"/>
<rect x="118" y="411" width="11" height="20" fill="#000"/>
<rect x="119" y="412" width="9" height="18" fill="#ff0000"/>
<rect x="139" y="294" width="1" height="7" fill="#000"/>
<rect x="139" y="413" width="1" height="1" fill="#000"/>
<rect x="134" y="301" width="11" height="112" fill="#000"/>
<rect x="135" y="302" width="9" height="110" fill="#ff0000"/>
<rect x="155" y="293" width="1" height="3" fill="#000"/>
<rect x="155" y="303" width="1" height="19" fill="#000"/>
<rect x="150" y="296" width="11" height="7" fill="#000"/>
<rect x="151" y="297" width="9" height="5" fill="#ff0000"/>
<rect x="171" y="292" width="1" height="2" fill="#000"/>
<rect x="171" y="297" width="1" height="7" fill="#000"/>
<rect x="166" y="294" width="11" height="3" fill="#000"/>
<rect x="167" y="295" width="9" height="1" fill="#ff0000"/>
<rect x="187" y="274" width="1" height="4" fill="#000"/>
<rect x="187" y="294" width="1" height="1" fill="#000"/>
<rect x="182" y="278" width="11" height="16" fill="#000"/>
<rect x="183" y="279" width="9" height="14" fill="#ff0000"/>
<rect x="203" y="262" width="1" height="16" fill="#000"/>
<rect x="203" y="282" width="1" height="5" fill="#000"/>
<rect x="198" y="278" width="11" height="4" fill="#000"/>
<rect x="199" y="279" width="9" height="2" fill="#00ff00"/>
<rect x="219" y="266" width="1" height="2" fill="#000"/>
<rect x="219" y="282" width="1" height="12" fill="#000"/>
<rect x="214" y="268" width="11" height="14" fill="#000"/>
<rect x="215" y="269" width="9" height="12" fill="#ff0000"/>
<rect x="235" y="218" width="1" height="50" fill="#000"/>
<rect x="235" y="271" width="1" height="9" fill="#000"/>
<rect x="230" y="268" width="11" height="3" fill="#000"/>
<rect x="231" y="269" width="9" height="1" fill="#00ff00"/>
<rect x="251" y="249" width="1" height="21" fill="#000"/>
<rect x="251" y="299" width="1" height="11" fill="#000"/>
<rect x="246" y="270" width="11" height="29" fill="#000"/>
<rect x="247" y="271" width="9" height="27" fill="#00ff00"/>
<rect x="267" y="282" width="1" height="8" fill="#000"/>
<rect x="262" y="290" width="11" height="10" fill="#000"/>
<rect x="263" y="291" width="9" height="8" fill="#ff0000"/>
<rect x="283" y="280" width="1" height="7" fill="#000"/>
<rect x="283" y="290" width="1" height="11" fill="#000"/>
<rect x="278" y="287" width="11" height="3" fill="#000"/>
<rect x="279" y="288" width="9" height="1" fill="#ff0000"/>
<rect x="299" y="256" width="1" height="4" fill="#000"/>
<rect x="299" y="289" width="1" height="2" fill="#000"/>
<rect x="294" y="260" width="11" height="29" fill="#000"/>
<rect x="295" y="261" width="9" height="27" fill="#ff0000"/>
<rect x="315" y="254" width="1" height="6" fill="#000"/>
<rect x="315" y="274" width="1" height="9" fill="#000"/>
<rect x="310" y="260" width="11" height="14" fill="#000"/>
<rect x="311" y="261" width="9" height="12" fill="#00ff00"/>
<rect x="331" y="236" width="1" height="6" fill="#000"/>
<rect x="331" y="275" width="1" height="5" fill="#000"/>
<rect x="326" y="242" width="11" height="33" fill="#000"/>
<rect x="327" y="243" width="9" height="31" fill="#ff0000"/>
<rect x="347" y="183" width="1" height="2" fill="#000"/>
<rect x="347" y="242" width="1" height="2" fill="#000"/>
<rect x="342" y="185" width="11" height="57" fill="#000"/>
<rect x="343" y="186" width="9" height="55" fill="#ff0000"/>
<rect x="363" y="193" width="1" height="5" fill="#000"/>
<rect x="363" y="205" width="1" height="1" fill="#000"/>
<rect x="358" y="198" width="11" height="7" fill="#000"/>
<rect x="359" y="199" width="9" height="5" fill="#00ff00"/>
<rect x="379" y="193" width="1" height="7" fill="#000"/>
<rect x="379" y="205" width="1" height="2" fill="#000"/>
<rect x="374" y="200" width="11" height="5" fill="#000"/>
<rect x="375" y="201" width="9" height="3" fill="#ff0000"/>
<rect x="395" y="197" width="1" height="3" fill="#000"/>
<rect x="395" y="220" width="1" height="1" fill="#000"/>
<rect x="390" y="200" width="11" height="20" fill="#000"/>
<rect x="391" y="201" width="9" height="18" fill="#00ff00"/>
<rect x="411" y="209" width="1" height="10" fill="#000"/>
<rect x="411" y="223" width="1" height="6" fill="#000"/>
<rect x="406" y="219" width="11" height="4" fill="#000"/>
<rect x="407" y="220" width="9" height="2" fill="#00ff00"/>
<rect x="427" y="166" width="1" height="4" fill="#000"/>
<rect x="427" y="223" width="1" height="14" fill="#000"/>
<rect x="422" y="170" width="11" height="53" fill="#000"/>
<rect x="423" y="171" width="9" height="51" fill="#ff0000"/>
<rect x="443" y="148" width="1" height="8" fill="#000"/>
<rect x="443" y="171" width="1" height="4" fill="#000"/>
<rect x="438" y="156" width="11" height="15" fill="#000"/>
<rect x="439" y="157" width="9" height="13" fill="#ff0000"/>
<rect x="459" y="156" width="1" height="1" fill="#000"/>
<rect x="459" y="164" width="1" height="4" fill="#000"/>
<rect x="454" y="157" width="11" height="7" fill="#000"/>
<rect x="455" y="158" width="9" height="5" fill="#00ff00"/>
<rect x="475" y="155" width="1" height="22" fill="#000"/>
<rect x="470" y="164" width="11" height="2" fill="#000"/>
<rect x="491" y="161" width="1" height="19" fill="#000"/>
<rect x="486" y="165" width="11" height="2" fill="#000"/>
<rect x="507" y="157" width="1" height="6" fill="#000"/>
<rect x="507" y="167" width="1" height="10" fill="#000"/>
<rect x="502" y="163" width="11" height="4" fill="#000"/>
<rect x="503" y="164" width="9" height="2" fill="#ff0000"/>
<rect x="523" y="133" width="1" height="3" fill="#000"/>
<rect x="523" y="164" width="1" height="26" fill="#000"/>
<rect x="518" y="136" width="11" height="28" fill="#000"/>
<rect x="519" y="137" width="9" height="26" fill="#ff0000"/>
<rect x="539" y="112" width="1" height="24" fill="#000"/>
<rect x="539" y="144" width="1" height="25" fill="#000"/>
<rect x="534" y="136" width="11" height="8" fill="#000"/>
<rect x="535" y="137" width="9" height="6" fill="#00ff00"/>
<rect x="555" y="139" width="1" height="12" fill="#000"/>
<rect x="550" y="143" width="11" height="2" fill="#000"/>
<rect x="571" y="136" width="1" height="14" fill="#000"/>
<rect x="566" y="143" width="11" height="2" fill="#000"/>
<rect x="587" y="132" width="1" height="11" fill="#000"/>
<rect x="582" y="143" width="11" height="17" fill="#000"/>
<rect x="583" y="144" width="9" height="15" fill="#00ff00"/>
<rect x="603" y="157" width="1" height="3" fill="#000"/>
<rect x="603" y="199" width="1" height="5" fill="#000"/>
<rect x="598" y="160" width="11" height="39" fill="#000"/>
<rect x="599" y="161" width="9" height="37" fill="#00ff00"/>
<rect x="619" y="179" width="1" height="18" fill="#000"/>
<rect x="619" y="222" width="1" height="5" fill="#000"/>
<rect x="614" y="197" width="11" height="25" fill="#000"/>
<rect x="615" y="198" width="9" height="23" fill="#00ff00"/>
<rect x="635" y="147" width="1" height="45" fill="#000"/>
<rect x="635" y="221" width="1" height="1" fill="#000"/>
<rect x="630" y="192" width="11" height="29" fill="#000"/>
<rect x="631" y="193" width="9" height="27" fill="#ff0000"/>
<rect x="651" y="185" width="1" height="7" fill="#000"/>
<rect x="651" y="205" width="1" height="3" fill="#000"/>
<rect x="646" y="192" width="11" height="13" fill="#000"/>
<rect x="647" y="193" width="9" height="11" fill="#00ff00"/>
<rect x="667" y="194" width="1" height="4" fill="#000"/>
<rect x="667" y="205" width="1" height="7" fill="#000"/>
<rect x="662" y="198" width="11" height="7" fill="#000"/>
<rect x="663" y="199" width="9" height="5" fill="#ff0000"/>
<rect x="683" y="195" width="1" height="3" fill="#000"/>
<rect x="683" y="211" width="1" height="11" fill="#000"/>
<rect x="678" y="198" width="11" height="13" fill="#000"/>
<rect x="679" y="199" width="9" height="11" fill="#00ff00"/>
<rect x="699" y="174" width="1" height="3" fill="#000"/>
<rect x="699" y="211" width="1" height="4" fill="#000"/>
<rect x="694" y="177" width="11" height="34" fill="#000"/>
<rect x="695" y="178" width="9" height="32" fill="#ff0000"/>
<rect x="715" y="167" width="1" height="46" fill="#000"/>
<rect x="710" y="177" width="11" height="2" fill="#000"/>
<rect x="731" y="162" width="1" height="12" fill="#000"/>
<rect x="731" y="179" width="1" height="28" fill="#000"/>
<rect x="726" y="174" width="11" height="5" fill="#000"/>
<rect x="727" y="175" width="9" height="3" fill="#ff0000"/>
<rect x="747" y="171" width="1" height="2" fill="#000"/>
<rect x="747" y="178" width="1" height="4" fill="#000"/>
<rect x="742" y="173" width="11" height="5" fill="#000"/>
<rect x="743" y="174" width="9" height="3" fill="#00ff00"/>
<rect x="763" y="174" width="1" height="3" fill="#000"/>
<rect x="763" y="190" width="1" height="2" fill="#000"/>
<rect x="758" y="177" width="11" height="13" fill="#000"/>
<rect x="759" y="178" width="9" height="11" fill="#00ff00"/>
<rect x="779" y="187" width="1" height="1" fill="#000"/>
<rect x="779" y="210" width="1" height="9" fill="#000"/>
<rect x="774" y="188" width="11" height="22" fill="#000"/>
<rect x="775" y="189" width="9" height="20" fill="#00ff00"/>
<rect x="795" y="205" width="1" height="4" fill="#000"/>
<rect x="795" y="236" width="1" height="13" fill="#000"/>
<rect x="790" y="209" width="11" height="27" fill="#000"/>
<rect x="791" y="210" width="9" height="25" fill="#00ff00"/>
<rect x="811" y="216" width="1" height="18" fill="#000"/>
<rect x="811" y="261" width="1" height="13" fill="#000"/>
<rect x="806" y="234" width="11" height="27" fill="#000"/>
<rect x="807" y="235" width="9" height="25" fill="#00ff00"/>
<rect x="827" y="241" width="1" height="20" fill="#000"/>
<rect x="827" y="266" width="1" height="16" fill="#000"/>
<rect x="822" y="261" width="11" height="5" fill="#000"/>
<rect x="823" y="262" width="9" height="3" fill="#00ff00"/>
<rect x="843" y="284" width="1" height="3" fill="#000"/>
<rect x="843" y="299" width="1" height="4" fill="#000"/>
<rect x="838" y="287" width="11" height="12" fill="#000"/>
<rect x="839" y="288" width="9" height="10" fill="#00ff00"/>
<rect x="859" y="280" width="1" height="9" fill="#000"/>
<rect x="859" y="299" width="1" height="5" fill="#000"/>
<rect x="854" y="289" width="11" height="10" fill="#000"/>
<rect x="855" y="290" width="9" height="8" fill="#ff0000"/>
<rect x="875" y="332" width="1" height="3" fill="#000"/>
<rect x="870" y="289" width="11" height="43" fill="#000"/>
<rect x="871" y="290" width="9" height="41" fill="#00ff00"/>
<rect x="891" y="329" width="1" height="1" fill="#000"/>
<rect x="891" y="338" width="1" height="15" fill="#000"/>
<rect x="886" y="330" width="11" height="8" fill="#000"/>
<rect x="887" y="331" width="9" height="6" fill="#00ff00"/>
<rect x="907" y="337" width="1" height="1" fill="#000"/>
<rect x="907" y="374" width="1" height="18" fill="#000"/>
<rect x="902" y="338" width="11" height="36" fill="#000"/>
<rect x="903" y="339" width="9" height="34" fill="#00ff00"/>
<rect x="923" y="368" width="1" height="4" fill="#000"/>
<rect x="923" y="405" width="1" height="17" fill="#000"/>
<rect x="918" y="372" width="11" height="33" fill="#000"/>
<rect x="919" y="373" width="9" height="31" fill="#00ff00"/>
<rect x="939" y="405" width="1" height="1" fill="#000"/>
<rect x="934" y="388" width="11" height="17" fill="#000"/>
<rect x="935" y="389" width="9" height="15" fill="#ff0000"/>
<rect x="955" y="387" width="1" height="1" fill="#000"/>
<rect x="955" y="398" width="1" height="6" fill="#000"/>
<rect x="950" y="388" width="11" height="10" fill="#000"/>
<rect x="951" y="389" width="9" height="8" fill="#00ff00"/>
<rect x="971" y="391" width="1" height="4" fill="#000"/>
<rect x="971" y="398" width="1" height="46" fill="#000"/>
<rect x="966" y="395" width="11" height="3" fill="#000"/>
<rect x="967" y="396" width="9" height="1" fill="#ff0000"/>
<rect x="987" y="381" width="1" height="27" fill="#000"/>
<rect x="982" y="394" width="11" height="1" fill="#000"/>
<rect x="1003" y="373" width="1" height="22" fill="#000"/>
<rect x="1003" y="414" width="1" height="15" fill="#000"/>
<rect x="998" y="395" width="11" height="19" fill="#000"/>
<rect x="999" y="396" width="9" height="17" fill="#00ff00"/>
<rect x="1019" y="403" width="1" height="10" fill="#000"/>
<rect x="1019" y="423" width="1" height="10" fill="#000"/>
<rect x="1014" y="413" width="11" height="10" fill="#000"/>
<rect x="1015" y="414" width="9" height="8" fill="#00ff00"/>
<rect x="1035" y="419" width="1" height="3" fill="#000"/>
<rect x="1035" y="427" width="1" height="3" fill="#000"/>
<rect x="1030" y="422" width="11" height="5" fill="#000"/>
<rect x="1031" y="423" width="9" height="3" fill="#00ff00"/>
<rect x="1051" y="422" width="1" height="3" fill="#000"/>
<rect x="1051" y="447" width="1" height="3" fill="#000"/>
<rect x="1046" y="425" width="11" height="22" fill="#000"/>
<rect x="1047" y="426" width="9" height="20" fill="#00ff00"/>
<rect x="1067" y="421" width="1" height="20" fill="#000"/>
<rect x="1067" y="447" width="1" height="9" fill="#000"/>
<rect x="1062" y="441" width="11" height="6" fill="#000"/>
<rect x="1063" y="442" width="9" height="4" fill="#ff0000"/>
<rect x="1083" y="409" width="1" height="2" fill="#000"/>
<rect x="1083" y="442" width="1" height="2" fill="#000"/>
<rect x="1078" y="411" width="11" height="31" fill="#000"/>
<rect x="1079" y="412" width="9" height="29" fill="#ff0000"/>
<rect x="1099" y="379" width="1" height="6" fill="#000"/>
<rect x="1099" y="412" width="1" height="26" fill="#000"/>
<rect x="1094" y="385" width="11" height="27" fill="#000"/>
<rect x="1095" y="386" width="9" height="25" fill="#ff0000"/>
<rect x="1115" y="381" width="1" height="4" fill="#000"/>
<rect x="1115" y="402" width="1" height="20" fill="#000"/>
<rect x="1110" y="385" width="11" height="17" fill="#000"/>
<rect x="1111" y="386" width="9" height="15" fill="#00ff00"/>
<rect x="1131" y="391" width="1" height="9" fill="#000"/>
<rect x="1131" y="403" width="1" height="3" fill="#000"/>
<rect x="1126" y="400" width="11" height="3" fill="#000"/>
<rect x="1127" y="401" width="9" height="1" fill="#ff0000"/>
<rect x="1147" y="381" width="1" height="5" fill="#000"/>
<rect x="1147" y="400" width="1" height="4" fill="#000"/>
<rect x="1142" y="386" width="11" height="14" fill="#000"/>
<rect x="1143" y="387" width="9" height="12" fill="#ff0000"/>
<rect x="1163" y="333" width="1" height="6" fill="#000"/>
<rect x="1163" y="386" width="1" height="2" fill="#000"/>
<rect x="1158" y="339" width="11" height="47" fill="#000"/>
<rect x="1159" y="340" width="9" height="45" fill="#ff0000"/>
<rect x="1179" y="336" width="1" height="2" fill="#000"/>
<rect x="1179" y="365" width="1" height="12" fill="#000"/>
<rect x="1174" y="338" width="11" height="27" fill="#000"/>
<rect x="1175" y="339" width="9" height="25" fill="#00ff00"/>
<rect x="1195" y="337" width="1" height="60" fill="#000"/>
<rect x="1190" y="364" width="11" height="2" fill="#000"/>
<rect x="1211" y="309" width="1" height="2" fill="#000"/>
<rect x="1211" y="366" width="1" height="22" fill="#000"/>
<rect x="1206" y="311" width="11" height="55" fill="#000"/>
<rect x="1207" y="312" width="9" height="53" fill="#ff0000"/>
<rect x="1227" y="309" width="1" height="1" fill="#000"/>
<rect x="1227" y="320" width="1" height="5" fill="#000"/>
<rect x="1222" y="310" width="11" height="10" fill="#000"/>
<rect x="1223" y="311" width="9" height="8" fill="#00ff00"/>
<rect x="1243" y="313" width="1" height="3" fill="#000"/>
<rect x="1243" y="320" width="1" height="6" fill="#000"/>
<rect x="1238" y="316" width="11" height="4" fill="#000"/>
<rect x="1239" y="317" width="9" height="2" fill="#ff0000"/>
<rect x="1259" y="315" width="1" height="1" fill="#000"/>
<rect x="1259" y="329" width="1" height="4" fill="#000"/>
<rect x="1254" y="316" width="11" height="13" fill="#000"/>
<rect x="1255" y="317" width="9" height="11" fill="#00ff00"/>
<rect x="1275" y="325" width="1" height="21" fill="#00ff00"/>
<rect x="1270" y="329" width="11" height="1" fill="#00ff00"/>
<rect x="1291" y="287" width="1" height="41" fill="#000"/>
<rect x="1291" y="446" width="1" height="16" fill="#000"/>
<rect x="1286" y="328" width="11" height="118" fill="#000"/>
<rect x="1287" y="329" width="9" height="116" fill="#00ff00"/>
<rect x="1307" y="536" width="1" height="2" fill="#000"/>
<rect x="1302" y="445" width="11" height="91" fill="#000"/>
<rect x="1303" y="446" width="9" height="89" fill="#00ff00"/>
<rect x="0" y="388" width="1" height="1" fill="#000"/>
</g>
<g shape-rendering="crispEdges">
<rect x="0" y="451" width="1594" height="2" fill="#ff0000"/>
<rect x="1586" y="449" width="6" height="6" fill="#ff0000"/>
<rect x="1588" y="451" width="2" height="2" fill="#fff"/>
<rect x="1594" y="446" width="46" height="11" fill="#ff0000"/>
<rect x="0" y="489" width="1594" height="2" fill="#ff0000"/>
<rect x="1586" y="487" width="6" height="6" fill="#ff0000"/>
<rect x="1588" y="489" width="2" height="2" fill="#fff"/>
<rect x="1594" y="484" width="46" height="11" fill="#ff0000"/>
<rect x="0" y="519" width="1594" height="2" fill="#ff8c00"/>
<rect x="1586" y="517" width="6" height="6" fill="#ff8c00"/>
<rect x="1588" y="519" width="2" height="2" fill="#fff"/>
<rect x="1594" y="514" width="46" height="11" fill="#ff8c00"/>
<rect x="0" y="535" width="1592" height="1" fill="#000"/>
<rect x="1594" y="530" width="46" height="11" fill="#000"/>
<rect x="0" y="568" width="1594" height="2" fill="#0000ff"/>
<rect x="1586" y="566" width="6" height="6" fill="#0000ff"/>
<rect x="1588" y="568" width="2" height="2" fill="#fff"/>
<rect x="1594" y="563" width="46" height="11" fill="#0000ff"/>
<rect x="0" y="604" width="1594" height="2" fill="#0000ff"/>
<rect x="1586" y="602" width="6" height="6" fill="#0000ff"/>
<rect x="1588" y="604" width="2" height="2" fill="#fff"/>
<rect x="1594" y="599" width="46" height="11" fill="#0000ff"/>
</g>
<text x="1598" y="455" font-size="10" fill="#fff" textLength="39" lengthAdjust="spacingAndGlyphs" stroke="#fff" stroke-width="0.15">4112.055</text>
<text x="1598" y="493" font-size="10" fill="#fff" textLength="39" lengthAdjust="spacingAndGlyphs" stroke="#fff" stroke-width="0.15">4087.650</text>
<text x="1598" y="523" font-size="10" fill="#fff" textLength="39" lengthAdjust="spacingAndGlyphs" stroke="#fff" stroke-width="0.15">4068.614</text>
<text x="1598" y="539" font-size="10" fill="#fff" textLength="39" lengthAdjust="spacingAndGlyphs" stroke="#fff" stroke-width="0.15">4059.050</text>
<text x="1598" y="572" font-size="10" fill="#fff" textLength="39" lengthAdjust="spacingAndGlyphs" stroke="#fff" stroke-width="0.15">4037.558</text>
<text x="1598" y="608" font-size="10" fill="#fff" textLength="39" lengthAdjust="spacingAndGlyphs" stroke="#fff" stroke-width="0.15">4015.366</text>
<polygon fill="#2e8333" points="1304.6,347.5 1386.9,502.8 1383.5,505.2 1397.6,515.6 1396.7,497 1394.3,498.9 1305.6,347.5"/>
<polygon points="-0.5,29 5.5,29 2.5,33" fill="#000"/>
<polygon points="1266.5,22.5 1276.5,22.5 1271.5,28" fill="#000"/>
<text x="9.5" y="34" font-size="10" fill="#000" textLength="46" lengthAdjust="spacingAndGlyphs" stroke="#000" stroke-width="0.15">SP500-,H4</text>
<text x="60.5" y="34" font-size="10" fill="#000" textLength="162.5" lengthAdjust="spacingAndGlyphs" stroke="#000" stroke-width="0.15">4116.550 4116.550 4058.250 4059.050</text>
<g shape-rendering="crispEdges">
<rect x="10" y="652" width="3" height="13" fill="#00ff00"/>
<rect x="26" y="655" width="3" height="10" fill="#00ff00"/>
<rect x="42" y="658" width="3" height="7" fill="#00ff00"/>
<rect x="58" y="661" width="3" height="4" fill="#00ff00"/>
<rect x="74" y="662" width="3" height="3" fill="#00ff00"/>
<rect x="90" y="664" width="3" height="1" fill="#00ff00"/>
<rect x="106" y="665" width="3" height="1" fill="#00ff00"/>
<rect x="122" y="665" width="3" height="1" fill="#00ff00"/>
<rect x="138" y="657" width="3" height="8" fill="#00ff00"/>
<rect x="154" y="651" width="3" height="14" fill="#00ff00"/>
<rect x="170" y="646" width="3" height="19" fill="#00ff00"/>
<rect x="186" y="642" width="3" height="23" fill="#00ff00"/>
<rect x="202" y="639" width="3" height="26" fill="#00ff00"/>
<rect x="218" y="636" width="3" height="29" fill="#00ff00"/>
<rect x="234" y="634" width="3" height="31" fill="#00ff00"/>
<rect x="250" y="635" width="3" height="30" fill="#00ff00"/>
<rect x="266" y="635" width="3" height="30" fill="#00ff00"/>
<rect x="282" y="635" width="3" height="30" fill="#00ff00"/>
<rect x="298" y="634" width="3" height="31" fill="#00ff00"/>
<rect x="314" y="636" width="3" height="29" fill="#00ff00"/>
<rect x="330" y="633" width="3" height="32" fill="#00ff00"/>
<rect x="346" y="629" width="3" height="36" fill="#00ff00"/>
<rect x="362" y="627" width="3" height="38" fill="#00ff00"/>
<rect x="378" y="626" width="3" height="39" fill="#00ff00"/>
<rect x="394" y="626" width="3" height="39" fill="#00ff00"/>
<rect x="410" y="628" width="3" height="37" fill="#00ff00"/>
<rect x="426" y="626" width="3" height="39" fill="#00ff00"/>
<rect x="442" y="624" width="3" height="41" fill="#00ff00"/>
<rect x="458" y="623" width="3" height="42" fill="#00ff00"/>
<rect x="474" y="623" width="3" height="42" fill="#00ff00"/>
<rect x="490" y="624" width="3" height="41" fill="#00ff00"/>
<rect x="506" y="625" width="3" height="40" fill="#00ff00"/>
<rect x="522" y="625" width="3" height="40" fill="#00ff00"/>
<rect x="538" y="625" width="3" height="40" fill="#00ff00"/>
<rect x="554" y="624" width="3" height="41" fill="#00ff00"/>
<rect x="570" y="626" width="3" height="39" fill="#00ff00"/>
<rect x="586" y="628" width="3" height="37" fill="#00ff00"/>
<rect x="602" y="633" width="3" height="32" fill="#00ff00"/>
<rect x="618" y="638" width="3" height="27" fill="#00ff00"/>
<rect x="634" y="641" width="3" height="24" fill="#00ff00"/>
<rect x="650" y="644" width="3" height="21" fill="#00ff00"/>
<rect x="666" y="647" width="3" height="18" fill="#00ff00"/>
<rect x="682" y="650" width="3" height="15" fill="#00ff00"/>
<rect x="698" y="650" width="3" height="15" fill="#00ff00"/>
<rect x="714" y="650" width="3" height="15" fill="#00ff00"/>
<rect x="730" y="651" width="3" height="14" fill="#00ff00"/>
<rect x="746" y="651" width="3" height="14" fill="#00ff00"/>
<rect x="762" y="652" width="3" height="13" fill="#00ff00"/>
<rect x="778" y="655" width="3" height="10" fill="#00ff00"/>
<rect x="794" y="659" width="3" height="6" fill="#00ff00"/>
<rect x="810" y="663" width="3" height="2" fill="#00ff00"/>
<rect x="826" y="665" width="3" height="3" fill="#00ff00"/>
<rect x="842" y="665" width="3" height="9" fill="#00ff00"/>
<rect x="858" y="665" width="3" height="12" fill="#00ff00"/>
<rect x="874" y="665" width="3" height="17" fill="#00ff00"/>
<rect x="890" y="665" width="3" height="22" fill="#00ff00"/>
<rect x="906" y="665" width="3" height="27" fill="#00ff00"/>
<rect x="922" y="665" width="3" height="33" fill="#00ff00"/>
<rect x="938" y="665" width="3" height="36" fill="#00ff00"/>
<rect x="954" y="665" width="3" height="39" fill="#00ff00"/>
<rect x="970" y="665" width="3" height="41" fill="#00ff00"/>
<rect x="986" y="665" width="3" height="41" fill="#00ff00"/>
<rect x="1002" y="665" width="3" height="43" fill="#00ff00"/>
<rect x="1018" y="665" width="3" height="44" fill="#00ff00"/>
<rect x="1034" y="665" width="3" height="45" fill="#00ff00"/>
<rect x="1050" y="665" width="3" height="46" fill="#00ff00"/>
<rect x="1066" y="665" width="3" height="46" fill="#00ff00"/>
<rect x="1082" y="665" width="3" height="44" fill="#00ff00"/>
<rect x="1098" y="665" width="3" height="40" fill="#00ff00"/>
<rect x="1114" y="665" width="3" height="37" fill="#00ff00"/>
<rect x="1130" y="665" width="3" height="35" fill="#00ff00"/>
<rect x="1146" y="665" width="3" height="32" fill="#00ff00"/>
<rect x="1162" y="665" width="3" height="26" fill="#00ff00"/>
<rect x="1178" y="665" width="3" height="22" fill="#00ff00"/>
<rect x="1194" y="665" width="3" height="20" fill="#00ff00"/>
<rect x="1210" y="665" width="3" height="14" fill="#00ff00"/>
<rect x="1226" y="665" width="3" height="9" fill="#00ff00"/>
<rect x="1242" y="665" width="3" height="6" fill="#00ff00"/>
<rect x="1258" y="665" width="3" height="4" fill="#00ff00"/>
<rect x="1274" y="665" width="3" height="2" fill="#00ff00"/>
<rect x="1290" y="665" width="3" height="8" fill="#00ff00"/>
<rect x="1306" y="665" width="3" height="19" fill="#00ff00"/>
</g>
<polyline points="0,648.7 11,649 27,650.5 43,651.5 59,652.5 75,655 91,656.5 107,657.5 123,659.5 139,660 155,660 171,660 187,658 203,655 219,652 235,648.5 251,646.1 267,642.1 283,638.7 299,637.5 315,636.5 331,635.1 347,634.5 363,633.1 379,632.1 395,631.5 411,630.5 427,629.1 443,628.1 459,627.1 475,626.1 491,625 507,625 523,624 539,624 555,624 571,624 587,624 603,625.9 619,627 635,628.8 651,631 667,634.3 683,637.6 699,640.5 715,642.4 731,645.7 747,647.5 763,648.6 779,650.1 795,652.5 811,653 827,655.4 843,658.8 859,661.3 875,664.2 891,668.2 907,672.2 923,677.2 939,682.3 955,686.7 971,690.7 987,694.3 1003,697.3 1019,700.8 1035,703.4 1051,705.5 1067,706.8 1083,706.8 1099,706.8 1115,706.8 1131,706.8 1147,705.5 1163,703.4 1179,700.2 1195,697.3 1211,694.3 1227,690.3 1243,687.3 1259,683.3 1275,679.2 1291,675.8 1307,675.8" fill="none" stroke="#ff0000" stroke-width="2" shape-rendering="crispEdges"/>
<text x="-0.5" y="630" font-size="10" fill="#000" textLength="139" lengthAdjust="spacingAndGlyphs" stroke="#000" stroke-width="0.15">MACD(12,26,9) -14.2466 -8.4513</text>
<text x="1596" y="628" font-size="10" fill="#000" textLength="33.5" lengthAdjust="spacingAndGlyphs" stroke="#000" stroke-width="0.15">36.0267</text>
<text x="1596" y="669" font-size="10" fill="#000" textLength="18.5" lengthAdjust="spacingAndGlyphs" stroke="#000" stroke-width="0.15">0.00</text>
<text x="1596" y="712" font-size="10" fill="#000" textLength="36.5" lengthAdjust="spacingAndGlyphs" stroke="#000" stroke-width="0.15">-38.7668</text>
<g shape-rendering="crispEdges">
<rect x="2" y="733" width="3" height="1" fill="#000"/>
<rect x="8" y="733" width="3" height="1" fill="#000"/>
<rect x="14" y="733" width="3" height="1" fill="#000"/>
<rect x="20" y="733" width="3" height="1" fill="#000"/>
<rect x="26" y="733" width="3" height="1" fill="#000"/>
<rect x="32" y="733" width="3" height="1" fill="#000"/>
<rect x="38" y="733" width="3" height="1" fill="#000"/>
<rect x="44" y="733" width="3" height="1" fill="#000"/>
<rect x="50" y="733" width="3" height="1" fill="#000"/>
<rect x="56" y="733" width="3" height="1" fill="#000"/>
<rect x="62" y="733" width="3" height="1" fill="#000"/>
<rect x="68" y="733" width="3" height="1" fill="#000"/>
<rect x="74" y="733" width="3" height="1" fill="#000"/>
<rect x="80" y="733" width="3" height="1" fill="#000"/>
<rect x="86" y="733" width="3" height="1" fill="#000"/>
<rect x="92" y="733" width="3" height="1" fill="#000"/>
<rect x="98" y="733" width="3" height="1" fill="#000"/>
<rect x="104" y="733" width="3" height="1" fill="#000"/>
<rect x="110" y="733" width="3" height="1" fill="#000"/>
<rect x="116" y="733" width="3" height="1" fill="#000"/>
<rect x="122" y="733" width="3" height="1" fill="#000"/>
<rect x="128" y="733" width="3" height="1" fill="#000"/>
<rect x="134" y="733" width="3" height="1" fill="#000"/>
<rect x="140" y="733" width="3" height="1" fill="#000"/>
<rect x="146" y="733" width="3" height="1" fill="#000"/>
<rect x="152" y="733" width="3" height="1" fill="#000"/>
<rect x="158" y="733" width="3" height="1" fill="#000"/>
<rect x="164" y="733" width="3" height="1" fill="#000"/>
<rect x="170" y="733" width="3" height="1" fill="#000"/>
<rect x="176" y="733" width="3" height="1" fill="#000"/>
<rect x="182" y="733" width="3" height="1" fill="#000"/>
<rect x="188" y="733" width="3" height="1" fill="#000"/>
<rect x="194" y="733" width="3" height="1" fill="#000"/>
<rect x="200" y="733" width="3" height="1" fill="#000"/>
<rect x="206" y="733" width="3" height="1" fill="#000"/>
<rect x="212" y="733" width="3" height="1" fill="#000"/>
<rect x="218" y="733" width="3" height="1" fill="#000"/>
<rect x="224" y="733" width="3" height="1" fill="#000"/>
<rect x="230" y="733" width="3" height="1" fill="#000"/>
<rect x="236" y="733" width="3" height="1" fill="#000"/>
<rect x="242" y="733" width="3" height="1" fill="#000"/>
<rect x="248" y="733" width="3" height="1" fill="#000"/>
<rect x="254" y="733" width="3" height="1" fill="#000"/>
<rect x="260" y="733" width="3" height="1" fill="#000"/>
<rect x="266" y="733" width="3" height="1" fill="#000"/>
<rect x="272" y="733" width="3" height="1" fill="#000"/>
<rect x="278" y="733" width="3" height="1" fill="#000"/>
<rect x="284" y="733" width="3" height="1" fill="#000"/>
<rect x="290" y="733" width="3" height="1" fill="#000"/>
<rect x="296" y="733" width="3" height="1" fill="#000"/>
<rect x="302" y="733" width="3" height="1" fill="#000"/>
<rect x="308" y="733" width="3" height="1" fill="#000"/>
<rect x="314" y="733" width="3" height="1" fill="#000"/>
<rect x="320" y="733" width="3" height="1" fill="#000"/>
<rect x="326" y="733" width="3" height="1" fill="#000"/>
<rect x="332" y="733" width="3" height="1" fill="#000"/>
<rect x="338" y="733" width="3" height="1" fill="#000"/>
<rect x="344" y="733" width="3" height="1" fill="#000"/>
<rect x="350" y="733" width="3" height="1" fill="#000"/>
<rect x="356" y="733" width="3" height="1" fill="#000"/>
<rect x="362" y="733" width="3" height="1" fill="#000"/>
<rect x="368" y="733" width="3" height="1" fill="#000"/>
<rect x="374" y="733" width="3" height="1" fill="#000"/>
<rect x="380" y="733" width="3" height="1" fill="#000"/>
<rect x="386" y="733" width="3" height="1" fill="#000"/>
<rect x="392" y="733" width="3" height="1" fill="#000"/>
<rect x="398" y="733" width="3" height="1" fill="#000"/>
<rect x="404" y="733" width="3" height="1" fill="#000"/>
<rect x="410" y="733" width="3" height="1" fill="#000"/>
<rect x="416" y="733" width="3" height="1" fill="#000"/>
<rect x="422" y="733" width="3" height="1" fill="#000"/>
<rect x="428" y="733" width="3" height="1" fill="#000"/>
<rect x="434" y="733" width="3" height="1" fill="#000"/>
<rect x="440" y="733" width="3" height="1" fill="#000"/>
<rect x="446" y="733" width="3" height="1" fill="#000"/>
<rect x="452" y="733" width="3" height="1" fill="#000"/>
<rect x="458" y="733" width="3" height="1" fill="#000"/>
<rect x="464" y="733" width="3" height="1" fill="#000"/>
<rect x="470" y="733" width="3" height="1" fill="#000"/>
<rect x="476" y="733" width="3" height="1" fill="#000"/>
<rect x="482" y="733" width="3" height="1" fill="#000"/>
<rect x="488" y="733" width="3" height="1" fill="#000"/>
<rect x="494" y="733" width="3" height="1" fill="#000"/>
<rect x="500" y="733" width="3" height="1" fill="#000"/>
<rect x="506" y="733" width="3" height="1" fill="#000"/>
<rect x="512" y="733" width="3" height="1" fill="#000"/>
<rect x="518" y="733" width="3" height="1" fill="#000"/>
<rect x="524" y="733" width="3" height="1" fill="#000"/>
<rect x="530" y="733" width="3" height="1" fill="#000"/>
<rect x="536" y="733" width="3" height="1" fill="#000"/>
<rect x="542" y="733" width="3" height="1" fill="#000"/>
<rect x="548" y="733" width="3" height="1" fill="#000"/>
<rect x="554" y="733" width="3" height="1" fill="#000"/>
<rect x="560" y="733" width="3" height="1" fill="#000"/>
<rect x="566" y="733" width="3" height="1" fill="#000"/>
<rect x="572" y="733" width="3" height="1" fill="#000"/>
<rect x="578" y="733" width="3" height="1" fill="#000"/>
<rect x="584" y="733" width="3" height="1" fill="#000"/>
<rect x="590" y="733" width="3" height="1" fill="#000"/>
<rect x="596" y="733" width="3" height="1" fill="#000"/>
<rect x="602" y="733" width="3" height="1" fill="#000"/>
<rect x="608" y="733" width="3" height="1" fill="#000"/>
<rect x="614" y="733" width="3" height="1" fill="#000"/>
<rect x="620" y="733" width="3" height="1" fill="#000"/>
<rect x="626" y="733" width="3" height="1" fill="#000"/>
<rect x="632" y="733" width="3" height="1" fill="#000"/>
<rect x="638" y="733" width="3" height="1" fill="#000"/>
<rect x="644" y="733" width="3" height="1" fill="#000"/>
<rect x="650" y="733" width="3" height="1" fill="#000"/>
<rect x="656" y="733" width="3" height="1" fill="#000"/>
<rect x="662" y="733" width="3" height="1" fill="#000"/>
<rect x="668" y="733" width="3" height="1" fill="#000"/>
<rect x="674" y="733" width="3" height="1" fill="#000"/>
<rect x="680" y="733" width="3" height="1" fill="#000"/>
<rect x="686" y="733" width="3" height="1" fill="#000"/>
<rect x="692" y="733" width="3" height="1" fill="#000"/>
<rect x="698" y="733" width="3" height="1" fill="#000"/>
<rect x="704" y="733" width="3" height="1" fill="#000"/>
<rect x="710" y="733" width="3" height="1" fill="#000"/>
<rect x="716" y="733" width="3" height="1" fill="#000"/>
<rect x="722" y="733" width="3" height="1" fill="#000"/>
<rect x="728" y="733" width="3" height="1" fill="#000"/>
<rect x="734" y="733" width="3" height="1" fill="#000"/>
<rect x="740" y="733" width="3" height="1" fill="#000"/>
<rect x="746" y="733" width="3" height="1" fill="#000"/>
<rect x="752" y="733" width="3" height="1" fill="#000"/>
<rect x="758" y="733" width="3" height="1" fill="#000"/>
<rect x="764" y="733" width="3" height="1" fill="#000"/>
<rect x="770" y="733" width="3" height="1" fill="#000"/>
<rect x="776" y="733" width="3" height="1" fill="#000"/>
<rect x="782" y="733" width="3" height="1" fill="#000"/>
<rect x="788" y="733" width="3" height="1" fill="#000"/>
<rect x="794" y="733" width="3" height="1" fill="#000"/>
<rect x="800" y="733" width="3" height="1" fill="#000"/>
<rect x="806" y="733" width="3" height="1" fill="#000"/>
<rect x="812" y="733" width="3" height="1" fill="#000"/>
<rect x="818" y="733" width="3" height="1" fill="#000"/>
<rect x="824" y="733" width="3" height="1" fill="#000"/>
<rect x="830" y="733" width="3" height="1" fill="#000"/>
<rect x="836" y="733" width="3" height="1" fill="#000"/>
<rect x="842" y="733" width="3" height="1" fill="#000"/>
<rect x="848" y="733" width="3" height="1" fill="#000"/>
<rect x="854" y="733" width="3" height="1" fill="#000"/>
<rect x="860" y="733" width="3" height="1" fill="#000"/>
<rect x="866" y="733" width="3" height="1" fill="#000"/>
<rect x="872" y="733" width="3" height="1" fill="#000"/>
<rect x="878" y="733" width="3" height="1" fill="#000"/>
<rect x="884" y="733" width="3" height="1" fill="#000"/>
<rect x="890" y="733" width="3" height="1" fill="#000"/>
<rect x="896" y="733" width="3" height="1" fill="#000"/>
<rect x="902" y="733" width="3" height="1" fill="#000"/>
<rect x="908" y="733" width="3" height="1" fill="#000"/>
<rect x="914" y="733" width="3" height="1" fill="#000"/>
<rect x="920" y="733" width="3" height="1" fill="#000"/>
<rect x="926" y="733" width="3" height="1" fill="#000"/>
<rect x="932" y="733" width="3" height="1" fill="#000"/>
<rect x="938" y="733" width="3" height="1" fill="#000"/>
<rect x="944" y="733" width="3" height="1" fill="#000"/>
<rect x="950" y="733" width="3" height="1" fill="#000"/>
<rect x="956" y="733" width="3" height="1" fill="#000"/>
<rect x="962" y="733" width="3" height="1" fill="#000"/>
<rect x="968" y="733" width="3" height="1" fill="#000"/>
<rect x="974" y="733" width="3" height="1" fill="#000"/>
<rect x="980" y="733" width="3" height="1" fill="#000"/>
<rect x="986" y="733" width="3" height="1" fill="#000"/>
<rect x="992" y="733" width="3" height="1" fill="#000"/>
<rect x="998" y="733" width="3" height="1" fill="#000"/>
<rect x="1004" y="733" width="3" height="1" fill="#000"/>
<rect x="1010" y="733" width="3" height="1" fill="#000"/>
<rect x="1016" y="733" width="3" height="1" fill="#000"/>
<rect x="1022" y="733" width="3" height="1" fill="#000"/>
<rect x="1028" y="733" width="3" height="1" fill="#000"/>
<rect x="1034" y="733" width="3" height="1" fill="#000"/>
<rect x="1040" y="733" width="3" height="1" fill="#000"/>
<rect x="1046" y="733" width="3" height="1" fill="#000"/>
<rect x="1052" y="733" width="3" height="1" fill="#000"/>
<rect x="1058" y="733" width="3" height="1" fill="#000"/>
<rect x="1064" y="733" width="3" height="1" fill="#000"/>
<rect x="1070" y="733" width="3" height="1" fill="#000"/>
<rect x="1076" y="733" width="3" height="1" fill="#000"/>
<rect x="1082" y="733" width="3" height="1" fill="#000"/>
<rect x="1088" y="733" width="3" height="1" fill="#000"/>
<rect x="1094" y="733" width="3" height="1" fill="#000"/>
<rect x="1100" y="733" width="3" height="1" fill="#000"/>
<rect x="1106" y="733" width="3" height="1" fill="#000"/>
<rect x="1112" y="733" width="3" height="1" fill="#000"/>
<rect x="1118" y="733" width="3" height="1" fill="#000"/>
<rect x="1124" y="733" width="3" height="1" fill="#000"/>
<rect x="1130" y="733" width="3" height="1" fill="#000"/>
<rect x="1136" y="733" width="3" height="1" fill="#000"/>
<rect x="1142" y="733" width="3" height="1" fill="#000"/>
<rect x="1148" y="733" width="3" height="1" fill="#000"/>
<rect x="1154" y="733" width="3" height="1" fill="#000"/>
<rect x="1160" y="733" width="3" height="1" fill="#000"/>
<rect x="1166" y="733" width="3" height="1" fill="#000"/>
<rect x="1172" y="733" width="3" height="1" fill="#000"/>
<rect x="1178" y="733" width="3" height="1" fill="#000"/>
<rect x="1184" y="733" width="3" height="1" fill="#000"/>
<rect x="1190" y="733" width="3" height="1" fill="#000"/>
<rect x="1196" y="733" width="3" height="1" fill="#000"/>
<rect x="1202" y="733" width="3" height="1" fill="#000"/>
<rect x="1208" y="733" width="3" height="1" fill="#000"/>
<rect x="1214" y="733" width="3" height="1" fill="#000"/>
<rect x="1220" y="733" width="3" height="1" fill="#000"/>
<rect x="1226" y="733" width="3" height="1" fill="#000"/>
<rect x="1232" y="733" width="3" height="1" fill="#000"/>
<rect x="1238" y="733" width="3" height="1" fill="#000"/>
<rect x="1244" y="733" width="3" height="1" fill="#000"/>
<rect x="1250" y="733" width="3" height="1" fill="#000"/>
<rect x="1256" y="733" width="3" height="1" fill="#000"/>
<rect x="1262" y="733" width="3" height="1" fill="#000"/>
<rect x="1268" y="733" width="3" height="1" fill="#000"/>
<rect x="1274" y="733" width="3" height="1" fill="#000"/>
<rect x="1280" y="733" width="3" height="1" fill="#000"/>
<rect x="1286" y="733" width="3" height="1" fill="#000"/>
<rect x="1292" y="733" width="3" height="1" fill="#000"/>
<rect x="1298" y="733" width="3" height="1" fill="#000"/>
<rect x="1304" y="733" width="3" height="1" fill="#000"/>
<rect x="1310" y="733" width="3" height="1" fill="#000"/>
<rect x="1316" y="733" width="3" height="1" fill="#000"/>
<rect x="1322" y="733" width="3" height="1" fill="#000"/>
<rect x="1328" y="733" width="3" height="1" fill="#000"/>
<rect x="1334" y="733" width="3" height="1" fill="#000"/>
<rect x="1340" y="733" width="3" height="1" fill="#000"/>
<rect x="1346" y="733" width="3" height="1" fill="#000"/>
<rect x="1352" y="733" width="3" height="1" fill="#000"/>
<rect x="1358" y="733" width="3" height="1" fill="#000"/>
<rect x="1364" y="733" width="3" height="1" fill="#000"/>
<rect x="1370" y="733" width="3" height="1" fill="#000"/>
<rect x="1376" y="733" width="3" height="1" fill="#000"/>
<rect x="1382" y="733" width="3" height="1" fill="#000"/>
<rect x="1388" y="733" width="3" height="1" fill="#000"/>
<rect x="1394" y="733" width="3" height="1" fill="#000"/>
<rect x="1400" y="733" width="3" height="1" fill="#000"/>
<rect x="1406" y="733" width="3" height="1" fill="#000"/>
<rect x="1412" y="733" width="3" height="1" fill="#000"/>
<rect x="1418" y="733" width="3" height="1" fill="#000"/>
<rect x="1424" y="733" width="3" height="1" fill="#000"/>
<rect x="1430" y="733" width="3" height="1" fill="#000"/>
<rect x="1436" y="733" width="3" height="1" fill="#000"/>
<rect x="1442" y="733" width="3" height="1" fill="#000"/>
<rect x="1448" y="733" width="3" height="1" fill="#000"/>
<rect x="1454" y="733" width="3" height="1" fill="#000"/>
<rect x="1460" y="733" width="3" height="1" fill="#000"/>
<rect x="1466" y="733" width="3" height="1" fill="#000"/>
<rect x="1472" y="733" width="3" height="1" fill="#000"/>
<rect x="1478" y="733" width="3" height="1" fill="#000"/>
<rect x="1484" y="733" width="3" height="1" fill="#000"/>
<rect x="1490" y="733" width="3" height="1" fill="#000"/>
<rect x="1496" y="733" width="3" height="1" fill="#000"/>
<rect x="1502" y="733" width="3" height="1" fill="#000"/>
<rect x="1508" y="733" width="3" height="1" fill="#000"/>
<rect x="1514" y="733" width="3" height="1" fill="#000"/>
<rect x="1520" y="733" width="3" height="1" fill="#000"/>
<rect x="1526" y="733" width="3" height="1" fill="#000"/>
<rect x="1532" y="733" width="3" height="1" fill="#000"/>
<rect x="1538" y="733" width="3" height="1" fill="#000"/>
<rect x="1544" y="733" width="3" height="1" fill="#000"/>
<rect x="1550" y="733" width="3" height="1" fill="#000"/>
<rect x="1556" y="733" width="3" height="1" fill="#000"/>
<rect x="1562" y="733" width="3" height="1" fill="#000"/>
<rect x="1568" y="733" width="3" height="1" fill="#000"/>
<rect x="1574" y="733" width="3" height="1" fill="#000"/>
<rect x="1580" y="733" width="3" height="1" fill="#000"/>
<rect x="1586" y="733" width="3" height="1" fill="#000"/>
<rect x="2" y="755" width="3" height="1" fill="#000"/>
<rect x="8" y="755" width="3" height="1" fill="#000"/>
<rect x="14" y="755" width="3" height="1" fill="#000"/>
<rect x="20" y="755" width="3" height="1" fill="#000"/>
<rect x="26" y="755" width="3" height="1" fill="#000"/>
<rect x="32" y="755" width="3" height="1" fill="#000"/>
<rect x="38" y="755" width="3" height="1" fill="#000"/>
<rect x="44" y="755" width="3" height="1" fill="#000"/>
<rect x="50" y="755" width="3" height="1" fill="#000"/>
<rect x="56" y="755" width="3" height="1" fill="#000"/>
<rect x="62" y="755" width="3" height="1" fill="#000"/>
<rect x="68" y="755" width="3" height="1" fill="#000"/>
<rect x="74" y="755" width="3" height="1" fill="#000"/>
<rect x="80" y="755" width="3" height="1" fill="#000"/>
<rect x="86" y="755" width="3" height="1" fill="#000"/>
<rect x="92" y="755" width="3" height="1" fill="#000"/>
<rect x="98" y="755" width="3" height="1" fill="#000"/>
<rect x="104" y="755" width="3" height="1" fill="#000"/>
<rect x="110" y="755" width="3" height="1" fill="#000"/>
<rect x="116" y="755" width="3" height="1" fill="#000"/>
<rect x="122" y="755" width="3" height="1" fill="#000"/>
<rect x="128" y="755" width="3" height="1" fill="#000"/>
<rect x="134" y="755" width="3" height="1" fill="#000"/>
<rect x="140" y="755" width="3" height="1" fill="#000"/>
<rect x="146" y="755" width="3" height="1" fill="#000"/>
<rect x="152" y="755" width="3" height="1" fill="#000"/>
<rect x="158" y="755" width="3" height="1" fill="#000"/>
<rect x="164" y="755" width="3" height="1" fill="#000"/>
<rect x="170" y="755" width="3" height="1" fill="#000"/>
<rect x="176" y="755" width="3" height="1" fill="#000"/>
<rect x="182" y="755" width="3" height="1" fill="#000"/>
<rect x="188" y="755" width="3" height="1" fill="#000"/>
<rect x="194" y="755" width="3" height="1" fill="#000"/>
<rect x="200" y="755" width="3" height="1" fill="#000"/>
<rect x="206" y="755" width="3" height="1" fill="#000"/>
<rect x="212" y="755" width="3" height="1" fill="#000"/>
<rect x="218" y="755" width="3" height="1" fill="#000"/>
<rect x="224" y="755" width="3" height="1" fill="#000"/>
<rect x="230" y="755" width="3" height="1" fill="#000"/>
<rect x="236" y="755" width="3" height="1" fill="#000"/>
<rect x="242" y="755" width="3" height="1" fill="#000"/>
<rect x="248" y="755" width="3" height="1" fill="#000"/>
<rect x="254" y="755" width="3" height="1" fill="#000"/>
<rect x="260" y="755" width="3" height="1" fill="#000"/>
<rect x="266" y="755" width="3" height="1" fill="#000"/>
<rect x="272" y="755" width="3" height="1" fill="#000"/>
<rect x="278" y="755" width="3" height="1" fill="#000"/>
<rect x="284" y="755" width="3" height="1" fill="#000"/>
<rect x="290" y="755" width="3" height="1" fill="#000"/>
<rect x="296" y="755" width="3" height="1" fill="#000"/>
<rect x="302" y="755" width="3" height="1" fill="#000"/>
<rect x="308" y="755" width="3" height="1" fill="#000"/>
<rect x="314" y="755" width="3" height="1" fill="#000"/>
<rect x="320" y="755" width="3" height="1" fill="#000"/>
<rect x="326" y="755" width="3" height="1" fill="#000"/>
<rect x="332" y="755" width="3" height="1" fill="#000"/>
<rect x="338" y="755" width="3" height="1" fill="#000"/>
<rect x="344" y="755" width="3" height="1" fill="#000"/>
<rect x="350" y="755" width="3" height="1" fill="#000"/>
<rect x="356" y="755" width="3" height="1" fill="#000"/>
<rect x="362" y="755" width="3" height="1" fill="#000"/>
<rect x="368" y="755" width="3" height="1" fill="#000"/>
<rect x="374" y="755" width="3" height="1" fill="#000"/>
<rect x="380" y="755" width="3" height="1" fill="#000"/>
<rect x="386" y="755" width="3" height="1" fill="#000"/>
<rect x="392" y="755" width="3" height="1" fill="#000"/>
<rect x="398" y="755" width="3" height="1" fill="#000"/>
<rect x="404" y="755" width="3" height="1" fill="#000"/>
<rect x="410" y="755" width="3" height="1" fill="#000"/>
<rect x="416" y="755" width="3" height="1" fill="#000"/>
<rect x="422" y="755" width="3" height="1" fill="#000"/>
<rect x="428" y="755" width="3" height="1" fill="#000"/>
<rect x="434" y="755" width="3" height="1" fill="#000"/>
<rect x="440" y="755" width="3" height="1" fill="#000"/>
<rect x="446" y="755" width="3" height="1" fill="#000"/>
<rect x="452" y="755" width="3" height="1" fill="#000"/>
<rect x="458" y="755" width="3" height="1" fill="#000"/>
<rect x="464" y="755" width="3" height="1" fill="#000"/>
<rect x="470" y="755" width="3" height="1" fill="#000"/>
<rect x="476" y="755" width="3" height="1" fill="#000"/>
<rect x="482" y="755" width="3" height="1" fill="#000"/>
<rect x="488" y="755" width="3" height="1" fill="#000"/>
<rect x="494" y="755" width="3" height="1" fill="#000"/>
<rect x="500" y="755" width="3" height="1" fill="#000"/>
<rect x="506" y="755" width="3" height="1" fill="#000"/>
<rect x="512" y="755" width="3" height="1" fill="#000"/>
<rect x="518" y="755" width="3" height="1" fill="#000"/>
<rect x="524" y="755" width="3" height="1" fill="#000"/>
<rect x="530" y="755" width="3" height="1" fill="#000"/>
<rect x="536" y="755" width="3" height="1" fill="#000"/>
<rect x="542" y="755" width="3" height="1" fill="#000"/>
<rect x="548" y="755" width="3" height="1" fill="#000"/>
<rect x="554" y="755" width="3" height="1" fill="#000"/>
<rect x="560" y="755" width="3" height="1" fill="#000"/>
<rect x="566" y="755" width="3" height="1" fill="#000"/>
<rect x="572" y="755" width="3" height="1" fill="#000"/>
<rect x="578" y="755" width="3" height="1" fill="#000"/>
<rect x="584" y="755" width="3" height="1" fill="#000"/>
<rect x="590" y="755" width="3" height="1" fill="#000"/>
<rect x="596" y="755" width="3" height="1" fill="#000"/>
<rect x="602" y="755" width="3" height="1" fill="#000"/>
<rect x="608" y="755" width="3" height="1" fill="#000"/>
<rect x="614" y="755" width="3" height="1" fill="#000"/>
<rect x="620" y="755" width="3" height="1" fill="#000"/>
<rect x="626" y="755" width="3" height="1" fill="#000"/>
<rect x="632" y="755" width="3" height="1" fill="#000"/>
<rect x="638" y="755" width="3" height="1" fill="#000"/>
<rect x="644" y="755" width="3" height="1" fill="#000"/>
<rect x="650" y="755" width="3" height="1" fill="#000"/>
<rect x="656" y="755" width="3" height="1" fill="#000"/>
<rect x="662" y="755" width="3" height="1" fill="#000"/>
<rect x="668" y="755" width="3" height="1" fill="#000"/>
<rect x="674" y="755" width="3" height="1" fill="#000"/>
<rect x="680" y="755" width="3" height="1" fill="#000"/>
<rect x="686" y="755" width="3" height="1" fill="#000"/>
<rect x="692" y="755" width="3" height="1" fill="#000"/>
<rect x="698" y="755" width="3" height="1" fill="#000"/>
<rect x="704" y="755" width="3" height="1" fill="#000"/>
<rect x="710" y="755" width="3" height="1" fill="#000"/>
<rect x="716" y="755" width="3" height="1" fill="#000"/>
<rect x="722" y="755" width="3" height="1" fill="#000"/>
<rect x="728" y="755" width="3" height="1" fill="#000"/>
<rect x="734" y="755" width="3" height="1" fill="#000"/>
<rect x="740" y="755" width="3" height="1" fill="#000"/>
<rect x="746" y="755" width="3" height="1" fill="#000"/>
<rect x="752" y="755" width="3" height="1" fill="#000"/>
<rect x="758" y="755" width="3" height="1" fill="#000"/>
<rect x="764" y="755" width="3" height="1" fill="#000"/>
<rect x="770" y="755" width="3" height="1" fill="#000"/>
<rect x="776" y="755" width="3" height="1" fill="#000"/>
<rect x="782" y="755" width="3" height="1" fill="#000"/>
<rect x="788" y="755" width="3" height="1" fill="#000"/>
<rect x="794" y="755" width="3" height="1" fill="#000"/>
<rect x="800" y="755" width="3" height="1" fill="#000"/>
<rect x="806" y="755" width="3" height="1" fill="#000"/>
<rect x="812" y="755" width="3" height="1" fill="#000"/>
<rect x="818" y="755" width="3" height="1" fill="#000"/>
<rect x="824" y="755" width="3" height="1" fill="#000"/>
<rect x="830" y="755" width="3" height="1" fill="#000"/>
<rect x="836" y="755" width="3" height="1" fill="#000"/>
<rect x="842" y="755" width="3" height="1" fill="#000"/>
<rect x="848" y="755" width="3" height="1" fill="#000"/>
<rect x="854" y="755" width="3" height="1" fill="#000"/>
<rect x="860" y="755" width="3" height="1" fill="#000"/>
<rect x="866" y="755" width="3" height="1" fill="#000"/>
<rect x="872" y="755" width="3" height="1" fill="#000"/>
<rect x="878" y="755" width="3" height="1" fill="#000"/>
<rect x="884" y="755" width="3" height="1" fill="#000"/>
<rect x="890" y="755" width="3" height="1" fill="#000"/>
<rect x="896" y="755" width="3" height="1" fill="#000"/>
<rect x="902" y="755" width="3" height="1" fill="#000"/>
<rect x="908" y="755" width="3" height="1" fill="#000"/>
<rect x="914" y="755" width="3" height="1" fill="#000"/>
<rect x="920" y="755" width="3" height="1" fill="#000"/>
<rect x="926" y="755" width="3" height="1" fill="#000"/>
<rect x="932" y="755" width="3" height="1" fill="#000"/>
<rect x="938" y="755" width="3" height="1" fill="#000"/>
<rect x="944" y="755" width="3" height="1" fill="#000"/>
<rect x="950" y="755" width="3" height="1" fill="#000"/>
<rect x="956" y="755" width="3" height="1" fill="#000"/>
<rect x="962" y="755" width="3" height="1" fill="#000"/>
<rect x="968" y="755" width="3" height="1" fill="#000"/>
<rect x="974" y="755" width="3" height="1" fill="#000"/>
<rect x="980" y="755" width="3" height="1" fill="#000"/>
<rect x="986" y="755" width="3" height="1" fill="#000"/>
<rect x="992" y="755" width="3" height="1" fill="#000"/>
<rect x="998" y="755" width="3" height="1" fill="#000"/>
<rect x="1004" y="755" width="3" height="1" fill="#000"/>
<rect x="1010" y="755" width="3" height="1" fill="#000"/>
<rect x="1016" y="755" width="3" height="1" fill="#000"/>
<rect x="1022" y="755" width="3" height="1" fill="#000"/>
<rect x="1028" y="755" width="3" height="1" fill="#000"/>
<rect x="1034" y="755" width="3" height="1" fill="#000"/>
<rect x="1040" y="755" width="3" height="1" fill="#000"/>
<rect x="1046" y="755" width="3" height="1" fill="#000"/>
<rect x="1052" y="755" width="3" height="1" fill="#000"/>
<rect x="1058" y="755" width="3" height="1" fill="#000"/>
<rect x="1064" y="755" width="3" height="1" fill="#000"/>
<rect x="1070" y="755" width="3" height="1" fill="#000"/>
<rect x="1076" y="755" width="3" height="1" fill="#000"/>
<rect x="1082" y="755" width="3" height="1" fill="#000"/>
<rect x="1088" y="755" width="3" height="1" fill="#000"/>
<rect x="1094" y="755" width="3" height="1" fill="#000"/>
<rect x="1100" y="755" width="3" height="1" fill="#000"/>
<rect x="1106" y="755" width="3" height="1" fill="#000"/>
<rect x="1112" y="755" width="3" height="1" fill="#000"/>
<rect x="1118" y="755" width="3" height="1" fill="#000"/>
<rect x="1124" y="755" width="3" height="1" fill="#000"/>
<rect x="1130" y="755" width="3" height="1" fill="#000"/>
<rect x="1136" y="755" width="3" height="1" fill="#000"/>
<rect x="1142" y="755" width="3" height="1" fill="#000"/>
<rect x="1148" y="755" width="3" height="1" fill="#000"/>
<rect x="1154" y="755" width="3" height="1" fill="#000"/>
<rect x="1160" y="755" width="3" height="1" fill="#000"/>
<rect x="1166" y="755" width="3" height="1" fill="#000"/>
<rect x="1172" y="755" width="3" height="1" fill="#000"/>
<rect x="1178" y="755" width="3" height="1" fill="#000"/>
<rect x="1184" y="755" width="3" height="1" fill="#000"/>
<rect x="1190" y="755" width="3" height="1" fill="#000"/>
<rect x="1196" y="755" width="3" height="1" fill="#000"/>
<rect x="1202" y="755" width="3" height="1" fill="#000"/>
<rect x="1208" y="755" width="3" height="1" fill="#000"/>
<rect x="1214" y="755" width="3" height="1" fill="#000"/>
<rect x="1220" y="755" width="3" height="1" fill="#000"/>
<rect x="1226" y="755" width="3" height="1" fill="#000"/>
<rect x="1232" y="755" width="3" height="1" fill="#000"/>
<rect x="1238" y="755" width="3" height="1" fill="#000"/>
<rect x="1244" y="755" width="3" height="1" fill="#000"/>
<rect x="1250" y="755" width="3" height="1" fill="#000"/>
<rect x="1256" y="755" width="3" height="1" fill="#000"/>
<rect x="1262" y="755" width="3" height="1" fill="#000"/>
<rect x="1268" y="755" width="3" height="1" fill="#000"/>
<rect x="1274" y="755" width="3" height="1" fill="#000"/>
<rect x="1280" y="755" width="3" height="1" fill="#000"/>
<rect x="1286" y="755" width="3" height="1" fill="#000"/>
<rect x="1292" y="755" width="3" height="1" fill="#000"/>
<rect x="1298" y="755" width="3" height="1" fill="#000"/>
<rect x="1304" y="755" width="3" height="1" fill="#000"/>
<rect x="1310" y="755" width="3" height="1" fill="#000"/>
<rect x="1316" y="755" width="3" height="1" fill="#000"/>
<rect x="1322" y="755" width="3" height="1" fill="#000"/>
<rect x="1328" y="755" width="3" height="1" fill="#000"/>
<rect x="1334" y="755" width="3" height="1" fill="#000"/>
<rect x="1340" y="755" width="3" height="1" fill="#000"/>
<rect x="1346" y="755" width="3" height="1" fill="#000"/>
<rect x="1352" y="755" width="3" height="1" fill="#000"/>
<rect x="1358" y="755" width="3" height="1" fill="#000"/>
<rect x="1364" y="755" width="3" height="1" fill="#000"/>
<rect x="1370" y="755" width="3" height="1" fill="#000"/>
<rect x="1376" y="755" width="3" height="1" fill="#000"/>
<rect x="1382" y="755" width="3" height="1" fill="#000"/>
<rect x="1388" y="755" width="3" height="1" fill="#000"/>
<rect x="1394" y="755" width="3" height="1" fill="#000"/>
<rect x="1400" y="755" width="3" height="1" fill="#000"/>
<rect x="1406" y="755" width="3" height="1" fill="#000"/>
<rect x="1412" y="755" width="3" height="1" fill="#000"/>
<rect x="1418" y="755" width="3" height="1" fill="#000"/>
<rect x="1424" y="755" width="3" height="1" fill="#000"/>
<rect x="1430" y="755" width="3" height="1" fill="#000"/>
<rect x="1436" y="755" width="3" height="1" fill="#000"/>
<rect x="1442" y="755" width="3" height="1" fill="#000"/>
<rect x="1448" y="755" width="3" height="1" fill="#000"/>
<rect x="1454" y="755" width="3" height="1" fill="#000"/>
<rect x="1460" y="755" width="3" height="1" fill="#000"/>
<rect x="1466" y="755" width="3" height="1" fill="#000"/>
<rect x="1472" y="755" width="3" height="1" fill="#000"/>
<rect x="1478" y="755" width="3" height="1" fill="#000"/>
<rect x="1484" y="755" width="3" height="1" fill="#000"/>
<rect x="1490" y="755" width="3" height="1" fill="#000"/>
<rect x="1496" y="755" width="3" height="1" fill="#000"/>
<rect x="1502" y="755" width="3" height="1" fill="#000"/>
<rect x="1508" y="755" width="3" height="1" fill="#000"/>
<rect x="1514" y="755" width="3" height="1" fill="#000"/>
<rect x="1520" y="755" width="3" height="1" fill="#000"/>
<rect x="1526" y="755" width="3" height="1" fill="#000"/>
<rect x="1532" y="755" width="3" height="1" fill="#000"/>
<rect x="1538" y="755" width="3" height="1" fill="#000"/>
<rect x="1544" y="755" width="3" height="1" fill="#000"/>
<rect x="1550" y="755" width="3" height="1" fill="#000"/>
<rect x="1556" y="755" width="3" height="1" fill="#000"/>
<rect x="1562" y="755" width="3" height="1" fill="#000"/>
<rect x="1568" y="755" width="3" height="1" fill="#000"/>
<rect x="1574" y="755" width="3" height="1" fill="#000"/>
<rect x="1580" y="755" width="3" height="1" fill="#000"/>
<rect x="1586" y="755" width="3" height="1" fill="#000"/>
<rect x="2" y="781" width="3" height="1" fill="#000"/>
<rect x="8" y="781" width="3" height="1" fill="#000"/>
<rect x="14" y="781" width="3" height="1" fill="#000"/>
<rect x="20" y="781" width="3" height="1" fill="#000"/>
<rect x="26" y="781" width="3" height="1" fill="#000"/>
<rect x="32" y="781" width="3" height="1" fill="#000"/>
<rect x="38" y="781" width="3" height="1" fill="#000"/>
<rect x="44" y="781" width="3" height="1" fill="#000"/>
<rect x="50" y="781" width="3" height="1" fill="#000"/>
<rect x="56" y="781" width="3" height="1" fill="#000"/>
<rect x="62" y="781" width="3" height="1" fill="#000"/>
<rect x="68" y="781" width="3" height="1" fill="#000"/>
<rect x="74" y="781" width="3" height="1" fill="#000"/>
<rect x="80" y="781" width="3" height="1" fill="#000"/>
<rect x="86" y="781" width="3" height="1" fill="#000"/>
<rect x="92" y="781" width="3" height="1" fill="#000"/>
<rect x="98" y="781" width="3" height="1" fill="#000"/>
<rect x="104" y="781" width="3" height="1" fill="#000"/>
<rect x="110" y="781" width="3" height="1" fill="#000"/>
<rect x="116" y="781" width="3" height="1" fill="#000"/>
<rect x="122" y="781" width="3" height="1" fill="#000"/>
<rect x="128" y="781" width="3" height="1" fill="#000"/>
<rect x="134" y="781" width="3" height="1" fill="#000"/>
<rect x="140" y="781" width="3" height="1" fill="#000"/>
<rect x="146" y="781" width="3" height="1" fill="#000"/>
<rect x="152" y="781" width="3" height="1" fill="#000"/>
<rect x="158" y="781" width="3" height="1" fill="#000"/>
<rect x="164" y="781" width="3" height="1" fill="#000"/>
<rect x="170" y="781" width="3" height="1" fill="#000"/>
<rect x="176" y="781" width="3" height="1" fill="#000"/>
<rect x="182" y="781" width="3" height="1" fill="#000"/>
<rect x="188" y="781" width="3" height="1" fill="#000"/>
<rect x="194" y="781" width="3" height="1" fill="#000"/>
<rect x="200" y="781" width="3" height="1" fill="#000"/>
<rect x="206" y="781" width="3" height="1" fill="#000"/>
<rect x="212" y="781" width="3" height="1" fill="#000"/>
<rect x="218" y="781" width="3" height="1" fill="#000"/>
<rect x="224" y="781" width="3" height="1" fill="#000"/>
<rect x="230" y="781" width="3" height="1" fill="#000"/>
<rect x="236" y="781" width="3" height="1" fill="#000"/>
<rect x="242" y="781" width="3" height="1" fill="#000"/>
<rect x="248" y="781" width="3" height="1" fill="#000"/>
<rect x="254" y="781" width="3" height="1" fill="#000"/>
<rect x="260" y="781" width="3" height="1" fill="#000"/>
<rect x="266" y="781" width="3" height="1" fill="#000"/>
<rect x="272" y="781" width="3" height="1" fill="#000"/>
<rect x="278" y="781" width="3" height="1" fill="#000"/>
<rect x="284" y="781" width="3" height="1" fill="#000"/>
<rect x="290" y="781" width="3" height="1" fill="#000"/>
<rect x="296" y="781" width="3" height="1" fill="#000"/>
<rect x="302" y="781" width="3" height="1" fill="#000"/>
<rect x="308" y="781" width="3" height="1" fill="#000"/>
<rect x="314" y="781" width="3" height="1" fill="#000"/>
<rect x="320" y="781" width="3" height="1" fill="#000"/>
<rect x="326" y="781" width="3" height="1" fill="#000"/>
<rect x="332" y="781" width="3" height="1" fill="#000"/>
<rect x="338" y="781" width="3" height="1" fill="#000"/>
<rect x="344" y="781" width="3" height="1" fill="#000"/>
<rect x="350" y="781" width="3" height="1" fill="#000"/>
<rect x="356" y="781" width="3" height="1" fill="#000"/>
<rect x="362" y="781" width="3" height="1" fill="#000"/>
<rect x="368" y="781" width="3" height="1" fill="#000"/>
<rect x="374" y="781" width="3" height="1" fill="#000"/>
<rect x="380" y="781" width="3" height="1" fill="#000"/>
<rect x="386" y="781" width="3" height="1" fill="#000"/>
<rect x="392" y="781" width="3" height="1" fill="#000"/>
<rect x="398" y="781" width="3" height="1" fill="#000"/>
<rect x="404" y="781" width="3" height="1" fill="#000"/>
<rect x="410" y="781" width="3" height="1" fill="#000"/>
<rect x="416" y="781" width="3" height="1" fill="#000"/>
<rect x="422" y="781" width="3" height="1" fill="#000"/>
<rect x="428" y="781" width="3" height="1" fill="#000"/>
<rect x="434" y="781" width="3" height="1" fill="#000"/>
<rect x="440" y="781" width="3" height="1" fill="#000"/>
<rect x="446" y="781" width="3" height="1" fill="#000"/>
<rect x="452" y="781" width="3" height="1" fill="#000"/>
<rect x="458" y="781" width="3" height="1" fill="#000"/>
<rect x="464" y="781" width="3" height="1" fill="#000"/>
<rect x="470" y="781" width="3" height="1" fill="#000"/>
<rect x="476" y="781" width="3" height="1" fill="#000"/>
<rect x="482" y="781" width="3" height="1" fill="#000"/>
<rect x="488" y="781" width="3" height="1" fill="#000"/>
<rect x="494" y="781" width="3" height="1" fill="#000"/>
<rect x="500" y="781" width="3" height="1" fill="#000"/>
<rect x="506" y="781" width="3" height="1" fill="#000"/>
<rect x="512" y="781" width="3" height="1" fill="#000"/>
<rect x="518" y="781" width="3" height="1" fill="#000"/>
<rect x="524" y="781" width="3" height="1" fill="#000"/>
<rect x="530" y="781" width="3" height="1" fill="#000"/>
<rect x="536" y="781" width="3" height="1" fill="#000"/>
<rect x="542" y="781" width="3" height="1" fill="#000"/>
<rect x="548" y="781" width="3" height="1" fill="#000"/>
<rect x="554" y="781" width="3" height="1" fill="#000"/>
<rect x="560" y="781" width="3" height="1" fill="#000"/>
<rect x="566" y="781" width="3" height="1" fill="#000"/>
<rect x="572" y="781" width="3" height="1" fill="#000"/>
<rect x="578" y="781" width="3" height="1" fill="#000"/>
<rect x="584" y="781" width="3" height="1" fill="#000"/>
<rect x="590" y="781" width="3" height="1" fill="#000"/>
<rect x="596" y="781" width="3" height="1" fill="#000"/>
<rect x="602" y="781" width="3" height="1" fill="#000"/>
<rect x="608" y="781" width="3" height="1" fill="#000"/>
<rect x="614" y="781" width="3" height="1" fill="#000"/>
<rect x="620" y="781" width="3" height="1" fill="#000"/>
<rect x="626" y="781" width="3" height="1" fill="#000"/>
<rect x="632" y="781" width="3" height="1" fill="#000"/>
<rect x="638" y="781" width="3" height="1" fill="#000"/>
<rect x="644" y="781" width="3" height="1" fill="#000"/>
<rect x="650" y="781" width="3" height="1" fill="#000"/>
<rect x="656" y="781" width="3" height="1" fill="#000"/>
<rect x="662" y="781" width="3" height="1" fill="#000"/>
<rect x="668" y="781" width="3" height="1" fill="#000"/>
<rect x="674" y="781" width="3" height="1" fill="#000"/>
<rect x="680" y="781" width="3" height="1" fill="#000"/>
<rect x="686" y="781" width="3" height="1" fill="#000"/>
<rect x="692" y="781" width="3" height="1" fill="#000"/>
<rect x="698" y="781" width="3" height="1" fill="#000"/>
<rect x="704" y="781" width="3" height="1" fill="#000"/>
<rect x="710" y="781" width="3" height="1" fill="#000"/>
<rect x="716" y="781" width="3" height="1" fill="#000"/>
<rect x="722" y="781" width="3" height="1" fill="#000"/>
<rect x="728" y="781" width="3" height="1" fill="#000"/>
<rect x="734" y="781" width="3" height="1" fill="#000"/>
<rect x="740" y="781" width="3" height="1" fill="#000"/>
<rect x="746" y="781" width="3" height="1" fill="#000"/>
<rect x="752" y="781" width="3" height="1" fill="#000"/>
<rect x="758" y="781" width="3" height="1" fill="#000"/>
<rect x="764" y="781" width="3" height="1" fill="#000"/>
<rect x="770" y="781" width="3" height="1" fill="#000"/>
<rect x="776" y="781" width="3" height="1" fill="#000"/>
<rect x="782" y="781" width="3" height="1" fill="#000"/>
<rect x="788" y="781" width="3" height="1" fill="#000"/>
<rect x="794" y="781" width="3" height="1" fill="#000"/>
<rect x="800" y="781" width="3" height="1" fill="#000"/>
<rect x="806" y="781" width="3" height="1" fill="#000"/>
<rect x="812" y="781" width="3" height="1" fill="#000"/>
<rect x="818" y="781" width="3" height="1" fill="#000"/>
<rect x="824" y="781" width="3" height="1" fill="#000"/>
<rect x="830" y="781" width="3" height="1" fill="#000"/>
<rect x="836" y="781" width="3" height="1" fill="#000"/>
<rect x="842" y="781" width="3" height="1" fill="#000"/>
<rect x="848" y="781" width="3" height="1" fill="#000"/>
<rect x="854" y="781" width="3" height="1" fill="#000"/>
<rect x="860" y="781" width="3" height="1" fill="#000"/>
<rect x="866" y="781" width="3" height="1" fill="#000"/>
<rect x="872" y="781" width="3" height="1" fill="#000"/>
<rect x="878" y="781" width="3" height="1" fill="#000"/>
<rect x="884" y="781" width="3" height="1" fill="#000"/>
<rect x="890" y="781" width="3" height="1" fill="#000"/>
<rect x="896" y="781" width="3" height="1" fill="#000"/>
<rect x="902" y="781" width="3" height="1" fill="#000"/>
<rect x="908" y="781" width="3" height="1" fill="#000"/>
<rect x="914" y="781" width="3" height="1" fill="#000"/>
<rect x="920" y="781" width="3" height="1" fill="#000"/>
<rect x="926" y="781" width="3" height="1" fill="#000"/>
<rect x="932" y="781" width="3" height="1" fill="#000"/>
<rect x="938" y="781" width="3" height="1" fill="#000"/>
<rect x="944" y="781" width="3" height="1" fill="#000"/>
<rect x="950" y="781" width="3" height="1" fill="#000"/>
<rect x="956" y="781" width="3" height="1" fill="#000"/>
<rect x="962" y="781" width="3" height="1" fill="#000"/>
<rect x="968" y="781" width="3" height="1" fill="#000"/>
<rect x="974" y="781" width="3" height="1" fill="#000"/>
<rect x="980" y="781" width="3" height="1" fill="#000"/>
<rect x="986" y="781" width="3" height="1" fill="#000"/>
<rect x="992" y="781" width="3" height="1" fill="#000"/>
<rect x="998" y="781" width="3" height="1" fill="#000"/>
<rect x="1004" y="781" width="3" height="1" fill="#000"/>
<rect x="1010" y="781" width="3" height="1" fill="#000"/>
<rect x="1016" y="781" width="3" height="1" fill="#000"/>
<rect x="1022" y="781" width="3" height="1" fill="#000"/>
<rect x="1028" y="781" width="3" height="1" fill="#000"/>
<rect x="1034" y="781" width="3" height="1" fill="#000"/>
<rect x="1040" y="781" width="3" height="1" fill="#000"/>
<rect x="1046" y="781" width="3" height="1" fill="#000"/>
<rect x="1052" y="781" width="3" height="1" fill="#000"/>
<rect x="1058" y="781" width="3" height="1" fill="#000"/>
<rect x="1064" y="781" width="3" height="1" fill="#000"/>
<rect x="1070" y="781" width="3" height="1" fill="#000"/>
<rect x="1076" y="781" width="3" height="1" fill="#000"/>
<rect x="1082" y="781" width="3" height="1" fill="#000"/>
<rect x="1088" y="781" width="3" height="1" fill="#000"/>
<rect x="1094" y="781" width="3" height="1" fill="#000"/>
<rect x="1100" y="781" width="3" height="1" fill="#000"/>
<rect x="1106" y="781" width="3" height="1" fill="#000"/>
<rect x="1112" y="781" width="3" height="1" fill="#000"/>
<rect x="1118" y="781" width="3" height="1" fill="#000"/>
<rect x="1124" y="781" width="3" height="1" fill="#000"/>
<rect x="1130" y="781" width="3" height="1" fill="#000"/>
<rect x="1136" y="781" width="3" height="1" fill="#000"/>
<rect x="1142" y="781" width="3" height="1" fill="#000"/>
<rect x="1148" y="781" width="3" height="1" fill="#000"/>
<rect x="1154" y="781" width="3" height="1" fill="#000"/>
<rect x="1160" y="781" width="3" height="1" fill="#000"/>
<rect x="1166" y="781" width="3" height="1" fill="#000"/>
<rect x="1172" y="781" width="3" height="1" fill="#000"/>
<rect x="1178" y="781" width="3" height="1" fill="#000"/>
<rect x="1184" y="781" width="3" height="1" fill="#000"/>
<rect x="1190" y="781" width="3" height="1" fill="#000"/>
<rect x="1196" y="781" width="3" height="1" fill="#000"/>
<rect x="1202" y="781" width="3" height="1" fill="#000"/>
<rect x="1208" y="781" width="3" height="1" fill="#000"/>
<rect x="1214" y="781" width="3" height="1" fill="#000"/>
<rect x="1220" y="781" width="3" height="1" fill="#000"/>
<rect x="1226" y="781" width="3" height="1" fill="#000"/>
<rect x="1232" y="781" width="3" height="1" fill="#000"/>
<rect x="1238" y="781" width="3" height="1" fill="#000"/>
<rect x="1244" y="781" width="3" height="1" fill="#000"/>
<rect x="1250" y="781" width="3" height="1" fill="#000"/>
<rect x="1256" y="781" width="3" height="1" fill="#000"/>
<rect x="1262" y="781" width="3" height="1" fill="#000"/>
<rect x="1268" y="781" width="3" height="1" fill="#000"/>
<rect x="1274" y="781" width="3" height="1" fill="#000"/>
<rect x="1280" y="781" width="3" height="1" fill="#000"/>
<rect x="1286" y="781" width="3" height="1" fill="#000"/>
<rect x="1292" y="781" width="3" height="1" fill="#000"/>
<rect x="1298" y="781" width="3" height="1" fill="#000"/>
<rect x="1304" y="781" width="3" height="1" fill="#000"/>
<rect x="1310" y="781" width="3" height="1" fill="#000"/>
<rect x="1316" y="781" width="3" height="1" fill="#000"/>
<rect x="1322" y="781" width="3" height="1" fill="#000"/>
<rect x="1328" y="781" width="3" height="1" fill="#000"/>
<rect x="1334" y="781" width="3" height="1" fill="#000"/>
<rect x="1340" y="781" width="3" height="1" fill="#000"/>
<rect x="1346" y="781" width="3" height="1" fill="#000"/>
<rect x="1352" y="781" width="3" height="1" fill="#000"/>
<rect x="1358" y="781" width="3" height="1" fill="#000"/>
<rect x="1364" y="781" width="3" height="1" fill="#000"/>
<rect x="1370" y="781" width="3" height="1" fill="#000"/>
<rect x="1376" y="781" width="3" height="1" fill="#000"/>
<rect x="1382" y="781" width="3" height="1" fill="#000"/>
<rect x="1388" y="781" width="3" height="1" fill="#000"/>
<rect x="1394" y="781" width="3" height="1" fill="#000"/>
<rect x="1400" y="781" width="3" height="1" fill="#000"/>
<rect x="1406" y="781" width="3" height="1" fill="#000"/>
<rect x="1412" y="781" width="3" height="1" fill="#000"/>
<rect x="1418" y="781" width="3" height="1" fill="#000"/>
<rect x="1424" y="781" width="3" height="1" fill="#000"/>
<rect x="1430" y="781" width="3" height="1" fill="#000"/>
<rect x="1436" y="781" width="3" height="1" fill="#000"/>
<rect x="1442" y="781" width="3" height="1" fill="#000"/>
<rect x="1448" y="781" width="3" height="1" fill="#000"/>
<rect x="1454" y="781" width="3" height="1" fill="#000"/>
<rect x="1460" y="781" width="3" height="1" fill="#000"/>
<rect x="1466" y="781" width="3" height="1" fill="#000"/>
<rect x="1472" y="781" width="3" height="1" fill="#000"/>
<rect x="1478" y="781" width="3" height="1" fill="#000"/>
<rect x="1484" y="781" width="3" height="1" fill="#000"/>
<rect x="1490" y="781" width="3" height="1" fill="#000"/>
<rect x="1496" y="781" width="3" height="1" fill="#000"/>
<rect x="1502" y="781" width="3" height="1" fill="#000"/>
<rect x="1508" y="781" width="3" height="1" fill="#000"/>
<rect x="1514" y="781" width="3" height="1" fill="#000"/>
<rect x="1520" y="781" width="3" height="1" fill="#000"/>
<rect x="1526" y="781" width="3" height="1" fill="#000"/>
<rect x="1532" y="781" width="3" height="1" fill="#000"/>
<rect x="1538" y="781" width="3" height="1" fill="#000"/>
<rect x="1544" y="781" width="3" height="1" fill="#000"/>
<rect x="1550" y="781" width="3" height="1" fill="#000"/>
<rect x="1556" y="781" width="3" height="1" fill="#000"/>
<rect x="1562" y="781" width="3" height="1" fill="#000"/>
<rect x="1568" y="781" width="3" height="1" fill="#000"/>
<rect x="1574" y="781" width="3" height="1" fill="#000"/>
<rect x="1580" y="781" width="3" height="1" fill="#000"/>
<rect x="1586" y="781" width="3" height="1" fill="#000"/>
</g>
<polyline points="-5,752 11,753 27,758 43,758 59,758 75,758 91,759 107,757.5 123,755 139,741 155,741 171,740 187,740 203,740 219,739 235,739 251,745 267,745 283,744 299,742 315,744 331,743 347,737 363,740 379,740 395,744 411,744 427,739 443,739 459,740 475,740 491,739.7 507,739.7 523,738 539,739 555,739 571,739 587,744.1 603,752.1 619,756 635,751.7 651,753.7 667,754 683,755 699,750.1 715,750.1 731,750.1 747,750.1 763,752.1 779,758 795,761.5 811,764.5 827,765 843,769 859,768 875,771 891,771 907,774 923,776 939,773 955,773 971,773 987,773 1003,774.5 1019,775 1035,775 1051,777 1067,776 1083,768.5 1099,763 1115,764 1131,764 1147,762 1163,754 1179,757 1195,757 1211,750 1227,750 1243,750 1259,752 1275,752 1291,767 1307,772" fill="none" stroke="#1e90ff" stroke-width="2" shape-rendering="crispEdges"/>
<text x="-0.5" y="730" font-size="10" fill="#000" textLength="68.5" lengthAdjust="spacingAndGlyphs" stroke="#000" stroke-width="0.15">RSI(14) 26.5078</text>
<text x="1596" y="728" font-size="10" fill="#000" textLength="14.5" lengthAdjust="spacingAndGlyphs" stroke="#000" stroke-width="0.15">100</text>
<text x="1595" y="737" font-size="10" fill="#000" textLength="10" lengthAdjust="spacingAndGlyphs" stroke="#000" stroke-width="0.15">80</text>
<text x="1595" y="759" font-size="10" fill="#000" textLength="10" lengthAdjust="spacingAndGlyphs" stroke="#000" stroke-width="0.15">50</text>
<text x="1595.5" y="785" font-size="10" fill="#000" textLength="9.5" lengthAdjust="spacingAndGlyphs" stroke="#000" stroke-width="0.15">15</text>
<text x="1596" y="789" font-size="10" fill="#000" textLength="5" lengthAdjust="spacingAndGlyphs" stroke="#000" stroke-width="0.15">0</text>
</svg></body></html>
